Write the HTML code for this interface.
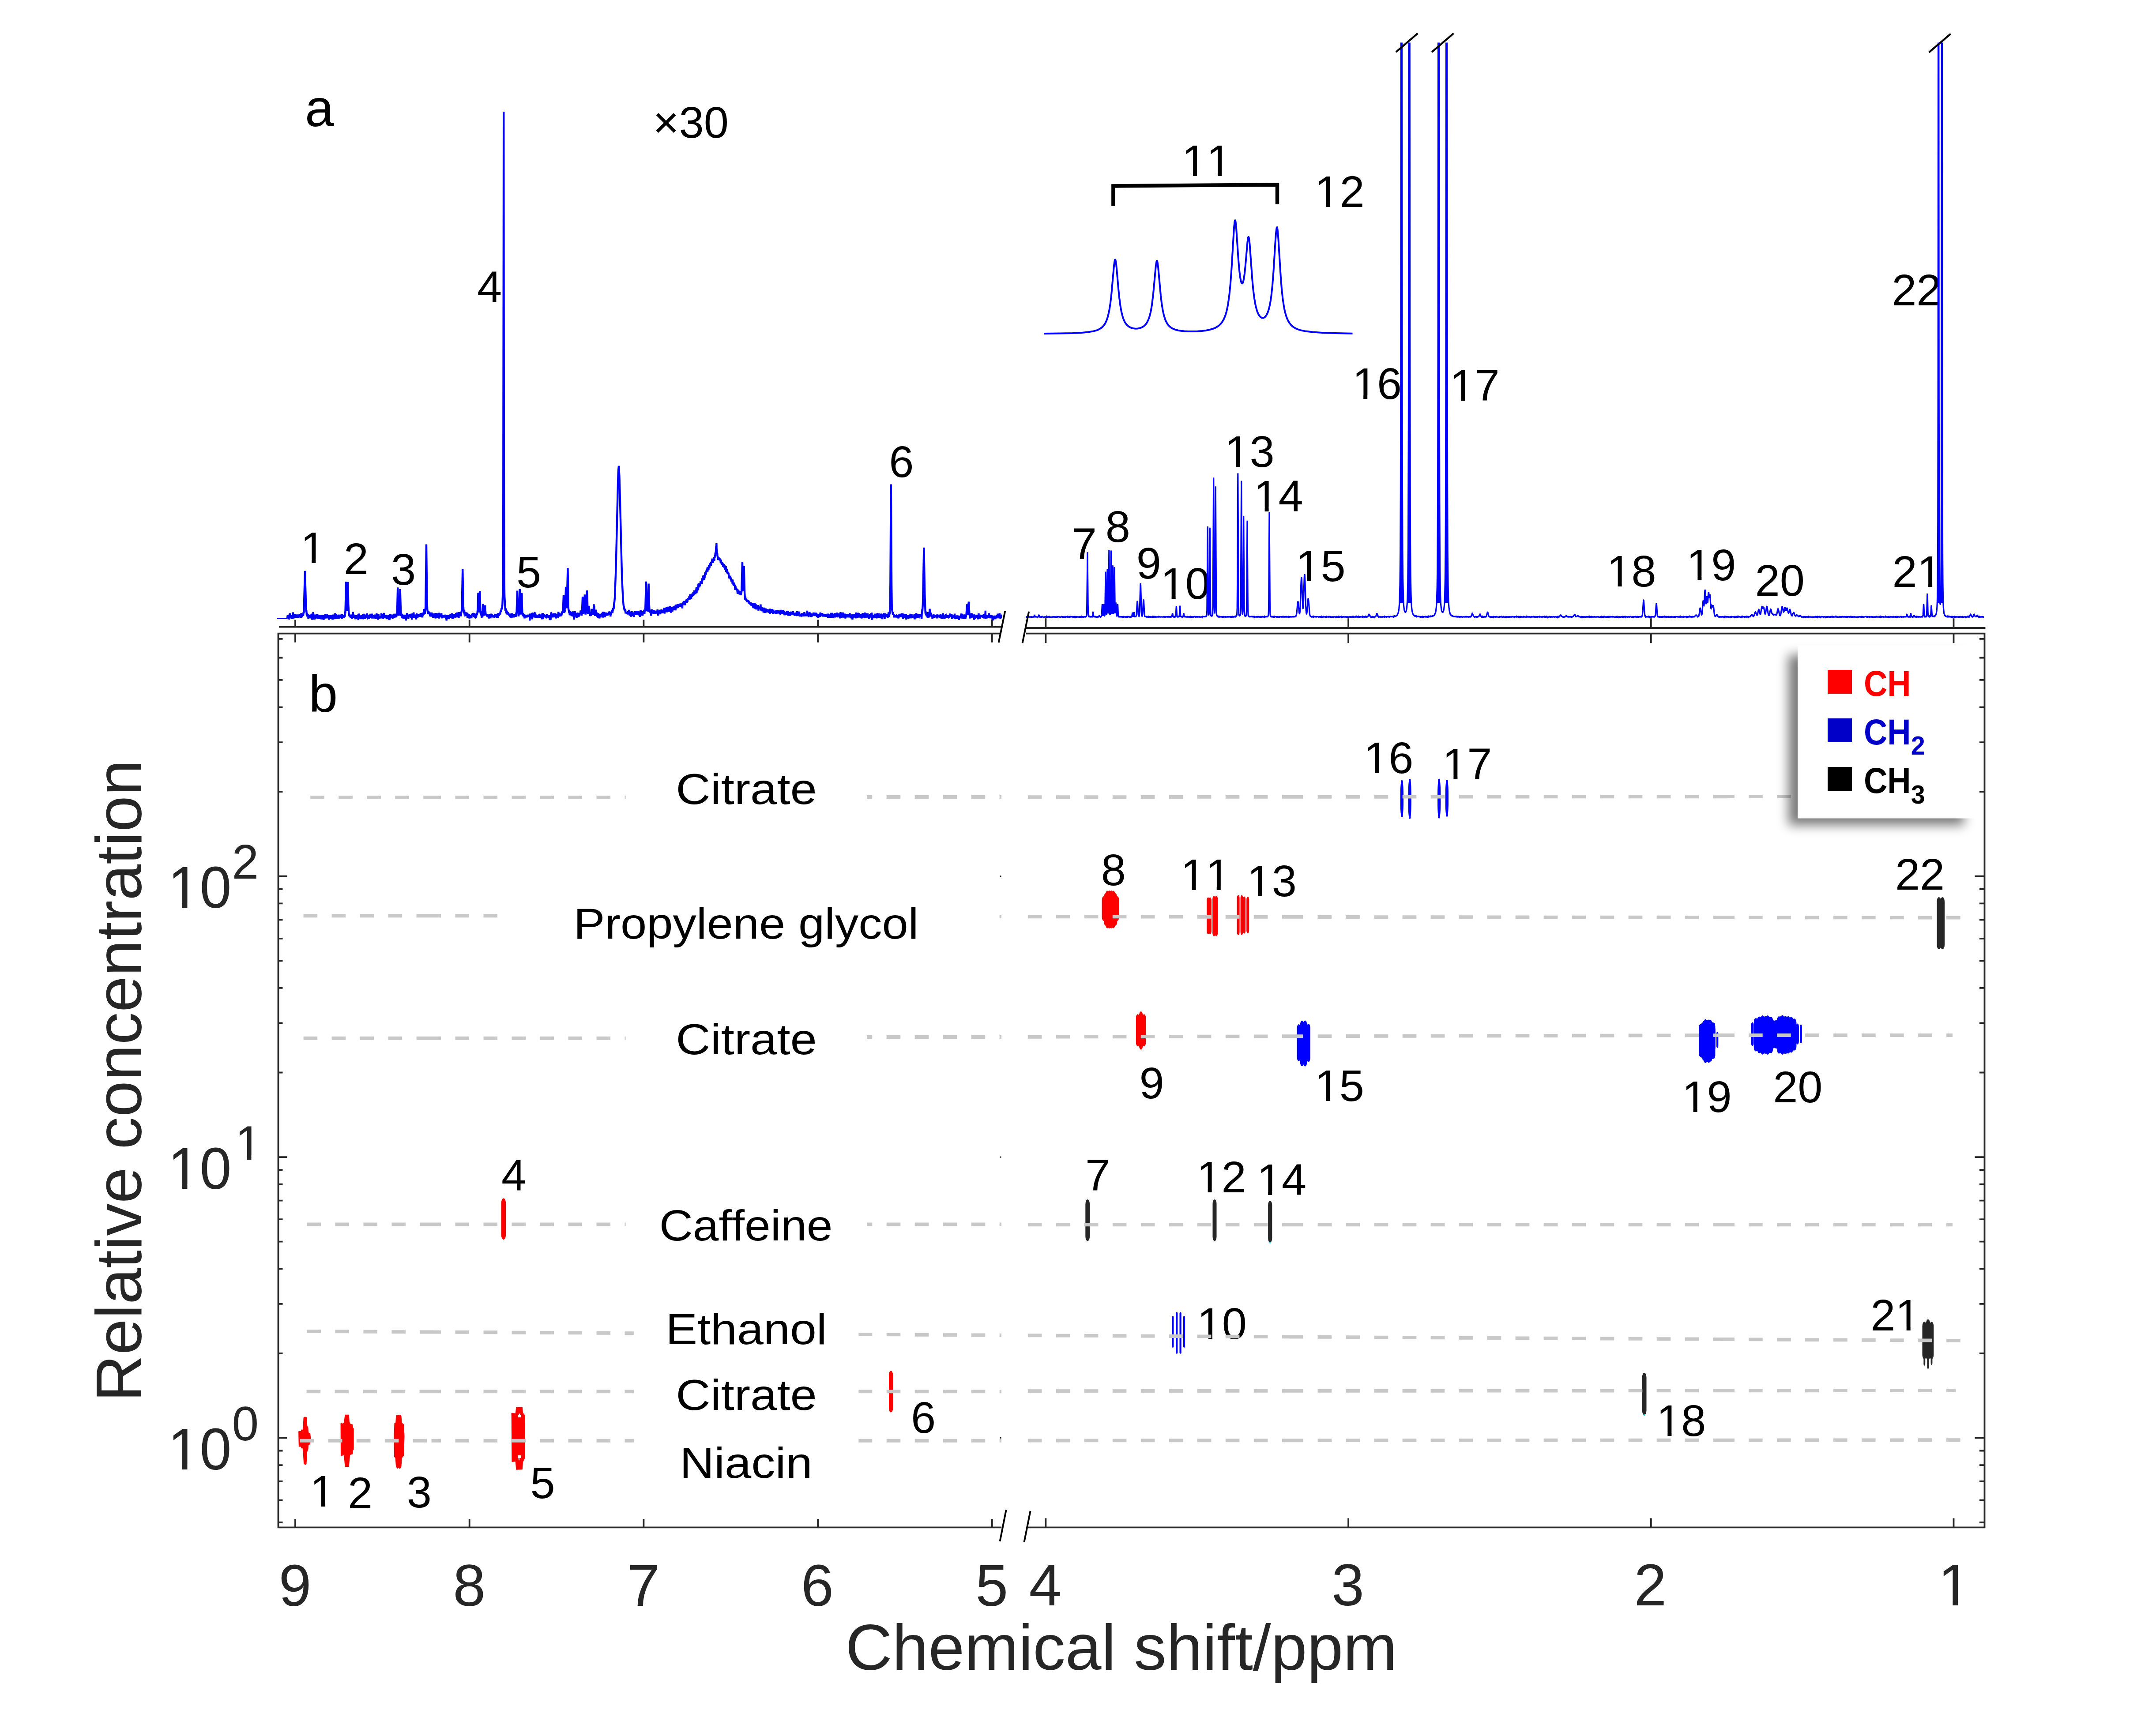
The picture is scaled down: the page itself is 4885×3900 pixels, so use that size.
<!DOCTYPE html>
<html lang="en"><head><meta charset="utf-8"><title>NMR figure</title>
<style>html,body{margin:0;padding:0;background:#fff}svg{display:block}</style></head>
<body>
<svg width="4885" height="3900" viewBox="0 0 4885 3900" font-family="'Liberation Sans', Arial, sans-serif" style="font-kerning:none">
<rect width="4885" height="3900" fill="#fff"/>
<g fill="#000">
<text x="1081" y="685.4" font-size="101" fill="#000">4</text>
<text x="2014.2" y="1081.2" font-size="101" fill="#000">6</text>
<text x="681" y="1275.5" font-size="101" fill="#000">1</text>
<path d="M687.02 1267.22H706.29v9.60H687.02zM715.32 1267.22H733.48v9.60H715.32z" fill="#fff"/>
<text x="778.7" y="1300.5" font-size="101" fill="#000">2</text>
<text x="886" y="1324.8" font-size="101" fill="#000">3</text>
<text x="1170" y="1330.6" font-size="101" fill="#000">5</text>
<text x="2428.7" y="1267" font-size="101" fill="#000">7</text>
<text x="2504.8" y="1227.5" font-size="101" fill="#000">8</text>
<text x="2574.8" y="1311" font-size="101" fill="#000">9</text>
<text x="2629.3" y="1357" font-size="101" fill="#000">10</text>
<path d="M2635.32 1348.72H2654.59v9.60H2635.32zM2663.62 1348.72H2681.78v9.60H2663.62z" fill="#fff"/>
<text x="2677.7" y="399" font-size="101" fill="#000">11</text>
<path d="M2683.72 390.72H2702.99v9.60H2683.72zM2712.02 390.72H2730.18v9.60H2712.02z" fill="#fff"/>
<path d="M2739.88 390.72H2759.15v9.60H2739.88zM2768.18 390.72H2786.34v9.60H2768.18z" fill="#fff"/>
<text x="2979.3" y="468.8" font-size="101" fill="#000">12</text>
<path d="M2985.32 460.52H3004.59v9.60H2985.32zM3013.62 460.52H3031.78v9.60H3013.62z" fill="#fff"/>
<text x="2775.3" y="1058.4" font-size="101" fill="#000">13</text>
<path d="M2781.32 1050.12H2800.59v9.60H2781.32zM2809.62 1050.12H2827.78v9.60H2809.62z" fill="#fff"/>
<text x="2840.3" y="1158.6" font-size="101" fill="#000">14</text>
<path d="M2846.32 1150.32H2865.59v9.60H2846.32zM2874.62 1150.32H2892.78v9.60H2874.62z" fill="#fff"/>
<text x="2936.3" y="1317" font-size="101" fill="#000">15</text>
<path d="M2942.32 1308.72H2961.59v9.60H2942.32zM2970.62 1308.72H2988.78v9.60H2970.62z" fill="#fff"/>
<text x="3063.9" y="904.2" font-size="101" fill="#000">16</text>
<path d="M3069.92 895.92H3089.19v9.60H3069.92zM3098.22 895.92H3116.38v9.60H3098.22z" fill="#fff"/>
<text x="3285.3" y="907.7" font-size="101" fill="#000">17</text>
<path d="M3291.32 899.42H3310.59v9.60H3291.32zM3319.62 899.42H3337.78v9.60H3319.62z" fill="#fff"/>
<text x="3640.3" y="1329" font-size="101" fill="#000">18</text>
<path d="M3646.32 1320.72H3665.59v9.60H3646.32zM3674.62 1320.72H3692.78v9.60H3674.62z" fill="#fff"/>
<text x="3821.1" y="1314.5" font-size="101" fill="#000">19</text>
<path d="M3827.12 1306.22H3846.39v9.60H3827.12zM3855.42 1306.22H3873.58v9.60H3855.42z" fill="#fff"/>
<text x="3976.6" y="1349.8" font-size="101" fill="#000">20</text>
<text x="4287.6" y="1329.8" font-size="101" fill="#000">21</text>
<path d="M4349.82 1321.52H4369.09v9.60H4349.82zM4378.12 1321.52H4396.28v9.60H4378.12z" fill="#fff"/>
<text x="4286.2" y="691.5" font-size="101" fill="#000">22</text>
<text x="1479.5" y="311.8" font-size="101" fill="#000">×30</text>
<text x="691" y="286" font-size="118" fill="#000">a</text>
</g>
<path d="M2522.4 466.8V421.5L2894 418.5V463" fill="none" stroke="#000" stroke-width="8.5" stroke-linejoin="miter"/>
<path d="M627 1401.6H651" stroke="#0000ff" stroke-width="2.6" fill="none"/>
<path d="M651 1401.2L651.7 1394.5L652.4 1401.5L653.5 1394.2L653.9 1401.2L654.2 1401.4L654.6 1395.4L655 1396.1L655.3 1392.9L656.4 1398.3L656.8 1389.8L657.1 1398.4L657.8 1400.9L658.2 1397.2L658.6 1397.1L658.9 1398.5L660.4 1394.2L661.1 1402.8L661.4 1395.4L661.8 1401.7L662.2 1398L662.5 1401.9L662.9 1397.5L663.2 1399.8L663.6 1396.8L664 1387.6L664.3 1397.6L664.7 1394.9L665 1401.4L665.8 1395.5L666.1 1397.7L666.5 1396.3L666.8 1397.1L667.2 1400.4L667.6 1395.7L667.9 1399.9L668.3 1391.8L668.6 1398.9L669 1395.3L669.4 1397.4L669.7 1394.5L670.1 1399.2L670.4 1394.4L670.8 1397.7L671.2 1393.6L672.2 1399.7L672.6 1395L673 1395.9L673.3 1392.4L673.7 1398.4L674 1395.6L674.4 1395.8L675.5 1396.7L676.2 1400.3L677.3 1392.6L677.6 1394.2L678 1394L678.7 1395L679.1 1396.5L679.8 1391.7L680.5 1399L680.9 1391L681.2 1396.1L681.6 1393.9L682 1394.1L682.3 1400L682.7 1389.3L683.4 1395.8L683.8 1394L684.5 1398.6L685.6 1392L686.3 1394.5L686.6 1390.1L687 1395.7L687.7 1387.2L688.1 1388.5L688.4 1388.2L691 1293.9L693.5 1382.7L693.8 1386.1L694.2 1382.6L694.9 1392.9L695.3 1389.3L695.6 1394.8L696 1389.3L696.4 1397.3L697.4 1391.6L698.2 1395.3L698.5 1401.8L698.9 1398.6L699.6 1398.2L700 1394.9L700.3 1397.7L700.7 1394.4L701.4 1397.9L702.5 1394.4L703.6 1401.2L703.9 1392.3L705.4 1400.9L706.4 1390.7L707.5 1404.6L707.9 1393.1L708.6 1402.1L709 1396.8L709.3 1402.1L709.7 1386.9L711.1 1403.8L711.5 1397.7L711.8 1402L712.2 1395.6L712.6 1403.8L713.6 1392.5L714 1400.9L714.4 1402L714.7 1394.8L715.1 1394.8L715.4 1400.4L716.2 1399.5L716.5 1401L717.2 1393.7L717.6 1395.3L718 1391.3L718.3 1397.7L718.7 1397.8L719 1400.4L719.4 1397.8L720.1 1402.8L720.8 1393.1L721.2 1394.9L721.6 1393.4L722.3 1399.6L722.6 1397.2L723.7 1402.5L724.4 1397.5L724.8 1397L725.2 1398.9L725.5 1393.2L725.9 1396.9L726.6 1393.8L727.3 1403.4L727.7 1395.2L728 1399.5L728.4 1393.5L728.8 1396.4L729.1 1394.4L729.5 1395.2L729.8 1403.7L730.2 1395.3L730.6 1399.5L730.9 1399.7L731.6 1395.2L732.4 1394.4L732.7 1402.4L733.1 1399.2L733.4 1404.6L734.2 1395.7L734.5 1399.7L735.6 1394.4L736 1399.9L736.7 1399.7L737 1392.2L737.8 1397.8L738.1 1396.8L738.8 1396.8L739.6 1398.5L739.9 1401.2L740.6 1392.5L741.7 1398.1L742.4 1396.4L742.8 1399.4L743.2 1396.9L743.5 1396.7L743.9 1399.7L745 1400.6L745.3 1394.8L745.7 1404.5L746 1398.2L746.8 1399.3L747.5 1394.1L748.6 1399.3L749.3 1394.7L750 1400.9L750.4 1401.2L750.7 1400.8L751.1 1401.6L751.4 1394.1L752.2 1398.1L752.5 1393.1L752.9 1399.4L753.2 1395.2L753.6 1395L754 1402.1L754.3 1402.1L755.4 1393.5L755.8 1401.1L756.1 1394.3L756.5 1398.6L757.2 1399.1L757.6 1398.4L757.9 1402.9L758.3 1400.4L758.6 1401.1L759.7 1389.2L760.4 1402.6L760.8 1398.6L761.2 1400.2L761.5 1391.4L762.2 1399.6L762.6 1394.6L763 1395.8L763.3 1402.3L763.7 1399L764.8 1397L765.1 1398.4L765.5 1396.8L766.2 1400L766.6 1392.8L766.9 1396.3L767.3 1396L767.6 1402.1L768.4 1394.9L768.7 1401.2L769.1 1394L769.4 1398.5L769.8 1396.1L770.2 1397.7L770.5 1396.6L770.9 1393.7L771.2 1398.5L771.6 1392.6L772 1399.6L772.3 1400L772.7 1395.1L773 1400.4L774.1 1393.5L774.5 1402.4L775.2 1391.4L775.9 1397.7L776.3 1398.8L776.6 1397.8L777 1400.4L777.4 1397.6L778.1 1397.1L778.4 1393.1L779.2 1400.8L779.5 1393.1L779.9 1399.3L780.6 1395.9L781.3 1397.6L782 1385.6L782.4 1390.3L784.2 1318.2L785.5 1372.4L786.2 1382.7L786.4 1383.4L786.5 1382.6L786.9 1374.9L788.2 1318.9L789.2 1368.5L790.3 1388.8L791.4 1395.1L791.8 1393.5L792.1 1399L792.5 1396.6L792.8 1398.4L793.2 1394.2L793.6 1398.2L794.6 1392.7L795 1399.2L795.4 1399.7L795.7 1394.5L796.1 1400.3L796.4 1395.6L796.8 1398.7L797.2 1397.4L797.5 1402.5L797.9 1395L798.6 1399.8L799 1390.9L799.3 1395L799.7 1386.7L800.4 1398.3L801.1 1392.4L801.5 1397.3L802.2 1395.7L802.6 1400L802.9 1396.9L803.6 1401L804 1394.7L804.7 1397.1L805.4 1403.3L805.8 1395.9L806.5 1402.4L806.9 1397.5L807.2 1401.9L807.6 1397.4L808.3 1396.3L809 1396.8L809.4 1400.8L809.8 1398.5L810.1 1398.9L811.2 1395.5L811.6 1392.5L811.9 1405.1L812.3 1396.2L812.6 1398L813 1390.5L813.7 1402.3L814.1 1396.2L814.4 1398.9L814.8 1394.4L815.2 1400.5L815.5 1397.7L816.2 1397.7L817 1402.9L817.7 1394.4L818.4 1400.4L819.1 1395.7L819.5 1397.9L819.8 1397.4L820.2 1393.2L820.6 1400.7L820.9 1399.1L821.3 1403.1L821.6 1399.5L822.4 1400.3L822.7 1399.5L823.1 1392L823.4 1398L823.8 1397.7L824.2 1390.8L824.9 1402.6L825.2 1396.2L825.6 1400.2L826 1392.5L826.3 1401.1L826.7 1399.1L827 1402.2L827.4 1397.1L827.8 1400.4L828.1 1397.6L828.8 1399.2L829.2 1394.6L829.6 1394.6L830.6 1400.6L831.4 1390.2L831.7 1398.8L832.8 1400.7L833.2 1400.3L833.9 1393.1L835 1402.2L835.3 1396.7L836 1401.1L836.4 1400.6L837.1 1394.3L838.2 1398.4L838.6 1396.4L838.9 1397.4L839.3 1390.9L839.6 1400.8L840.4 1393.6L840.7 1398.2L841.1 1393.1L841.4 1397.5L841.8 1397L842.5 1401.5L843.2 1390.7L843.6 1395.5L844 1395.6L844.3 1394.5L844.7 1395.7L845 1394.3L845.4 1398.2L845.8 1398.1L846.1 1394.4L846.8 1401.4L847.9 1395.5L848.6 1400.6L849.4 1392.7L849.7 1397.5L850.1 1396.9L850.4 1397.4L850.8 1396.5L851.5 1393.2L851.9 1402.3L852.2 1393.3L853 1398.3L853.3 1390.2L853.7 1397.9L854 1391.5L854.8 1400.5L855.5 1395.2L856.2 1404.3L856.6 1398.4L856.9 1397.9L857.3 1400.7L857.6 1391.9L858 1398.1L858.4 1398.5L858.7 1398.3L859.1 1399.7L859.4 1399.7L860.2 1396.4L860.5 1398.9L860.9 1397.6L861.2 1401.5L861.6 1395.8L862 1399.6L862.3 1396.7L862.7 1400.1L863.4 1396.7L863.8 1401L864.1 1389.9L864.5 1397.4L864.8 1397.6L865.2 1399.5L865.6 1392.5L865.9 1393.2L866.6 1401.4L867.4 1395.5L868.1 1400.9L868.4 1400.9L869.2 1397.3L869.5 1399.3L870.2 1388.9L871 1400.4L871.3 1396.3L872 1397.7L872.4 1394.2L872.8 1398.3L873.5 1398.4L874.2 1393.4L874.9 1401.3L875.3 1398.6L875.6 1399.7L876 1394.8L876.4 1396.6L876.7 1394.6L877.4 1403L877.8 1395.9L878.2 1396.6L878.5 1395.8L878.9 1401.2L879.2 1397L879.6 1399.3L880 1399.3L880.3 1396.2L880.7 1396.2L881.8 1404.7L882.5 1393.9L883.2 1404L884.3 1392.2L885.7 1400.4L886.4 1398.2L886.8 1399.5L887.2 1397L887.5 1398.4L888.2 1392.9L889.7 1401.7L890.4 1395.5L890.8 1400.1L891.1 1393.3L891.5 1398.1L891.8 1395.9L892.6 1400.8L892.9 1390.8L893.3 1400.5L893.6 1394.2L894 1398.6L894.4 1396.1L894.7 1399.3L895.8 1390.9L896.2 1399.2L896.9 1393.6L897.2 1398.2L897.6 1394L898 1398.2L899 1390.6L899.6 1391.7L899.8 1391.3L901.2 1331.3L903 1395.3L903.7 1389.5L904.1 1394.7L904.4 1393L905.2 1393.6L906.6 1335.1L908 1382.2L908.9 1395.9L909.8 1390.7L910.2 1401L910.6 1396.8L910.9 1398.4L911.6 1392.1L912.4 1400.3L912.7 1396.5L913.4 1401.4L913.8 1394.1L914.2 1398.4L914.5 1394.8L914.9 1400.8L915.2 1393.6L915.6 1401.2L916 1393.7L916.3 1402.4L916.7 1392.8L917.4 1401.6L918.1 1395.9L918.5 1399.9L919.2 1396.2L919.6 1397.5L919.9 1406.2L920.6 1395.7L921 1396.1L921.4 1394L921.7 1399L922.1 1389.3L922.4 1394.6L922.8 1396L923.2 1393.7L923.5 1394.1L924.2 1398.8L924.6 1393.9L925.3 1402.6L926 1395.5L926.4 1396.6L927.1 1395L927.5 1396.5L927.8 1392.2L928.2 1398.7L930 1392.4L930.4 1398.3L930.7 1393.4L931.4 1400L932.2 1390.6L933.2 1404L933.6 1399L934 1398.9L934.3 1396.6L934.7 1389.9L935.8 1399.6L936.1 1400.3L936.5 1397.3L936.8 1398.1L937.2 1387.7L937.6 1397.9L937.9 1398.5L938.3 1393.2L939 1400.3L939.4 1392.7L940.1 1400.5L940.4 1395.5L940.8 1395L941.2 1397.5L941.9 1393.9L943 1403.5L943.7 1392.5L944 1393.1L944.8 1390.5L945.1 1396L945.5 1392.8L945.8 1400.5L946.2 1393.8L947.6 1398.9L948.4 1391.6L948.7 1396.4L949.1 1393.6L949.4 1397.1L949.8 1394.3L950.2 1397.9L950.5 1393.7L950.9 1395.4L951.2 1393.6L952 1397.9L953 1389.2L953.4 1394.7L953.8 1391.2L954.1 1391.2L954.5 1392.1L954.8 1397.8L955.2 1392L955.6 1395.6L955.9 1389L956.6 1390.3L957 1399.5L957.4 1389.9L957.7 1389.4L958.1 1395.1L958.4 1388.1L958.8 1390.5L959.9 1393L960.6 1380L961 1388.3L961.3 1387.9L961.7 1389.9L962.4 1388.4L962.8 1388.6L963.1 1382.1L963.5 1383.8L964.2 1375.4L966 1233.5L967.4 1358.9L968.2 1380.5L969.6 1390.8L970.3 1385L971 1392.1L971.4 1387.2L972.1 1388.8L972.5 1388.6L972.8 1391.2L973.6 1387.9L974.3 1395.5L975 1391L975.4 1397.4L976.1 1390.5L976.4 1392.9L976.8 1392.3L977.2 1396.6L977.9 1387.9L978.2 1393.9L979 1397.1L979.3 1391.1L980 1396.4L980.4 1390.5L981.1 1392.6L981.5 1399.8L982.2 1392.9L982.6 1398.6L983.3 1390.8L984 1397.4L984.4 1397.5L984.7 1392.6L985.4 1391.9L985.8 1392L986.9 1401.4L987.6 1389.1L988 1397.4L988.3 1397.5L988.7 1394.1L989.4 1400.3L989.8 1398.3L990.1 1399.5L990.5 1390.2L990.8 1398.4L991.6 1390.6L992.3 1392.1L992.6 1391.5L993 1400.1L993.4 1397.5L993.7 1398.7L994.1 1397.4L994.4 1388.6L994.8 1401.6L995.2 1394.9L995.5 1400.3L995.9 1392.6L996.2 1392.7L996.6 1398.1L997 1390.4L997.3 1396.4L997.7 1392.7L998.4 1398.3L999.1 1397L999.5 1394.8L999.8 1396.3L1000.2 1389.6L1000.6 1397.3L1001.6 1399L1002 1401L1002.7 1394L1003.4 1397.2L1004.2 1393.5L1004.5 1394.9L1004.9 1394.4L1005.2 1398.4L1005.6 1397.5L1006 1399.1L1006.3 1397L1006.7 1399.2L1007.4 1397.3L1008.5 1398.2L1008.8 1392.8L1009.6 1399.8L1009.9 1396.2L1010.3 1400L1010.6 1400L1011 1396.5L1011.7 1406.4L1012.4 1393.7L1012.8 1401.8L1013.5 1395L1013.9 1402.7L1014.2 1399.4L1014.6 1400.4L1015 1397.4L1015.3 1402.7L1015.7 1394.1L1016 1397.2L1016.4 1395.8L1016.8 1397.7L1017.1 1403.1L1017.5 1397.2L1017.8 1400.8L1018.2 1396.7L1018.6 1399.3L1019.6 1394.4L1020 1394.4L1020.4 1399.7L1021.1 1392.3L1021.8 1398.9L1022.2 1397.1L1022.5 1397.7L1022.9 1393.9L1023.2 1396.6L1023.6 1395.5L1024 1390L1024.3 1400.8L1024.7 1399.7L1025 1401.8L1025.4 1401.4L1025.8 1394L1026.1 1395.7L1026.5 1391.7L1026.8 1402.5L1027.6 1392.2L1027.9 1393.4L1028.6 1393.8L1029 1396.3L1029.7 1396.3L1030.1 1393.8L1030.4 1396.8L1031.2 1391.9L1031.5 1399.6L1032.2 1394.4L1032.6 1396.8L1033 1396.5L1033.3 1389.6L1034 1397L1034.8 1388.1L1035.1 1398.9L1035.8 1395L1036.2 1397.1L1036.6 1388.6L1037.3 1396.1L1037.6 1393.3L1038 1397L1038.4 1396.3L1039.1 1387L1039.4 1400.7L1039.8 1392.5L1040.2 1389.5L1040.5 1391.1L1040.9 1387.4L1041.2 1391.5L1042.3 1394.7L1042.7 1386.9L1043 1395.1L1043.4 1391.6L1044.1 1392.7L1044.5 1396.6L1044.8 1390.4L1046.3 1382.2L1046.6 1375.4L1048.2 1289.9L1049.7 1372.6L1051 1389.8L1051.3 1389.5L1052 1382.8L1052.8 1394.3L1053.1 1389.9L1053.5 1392.5L1053.8 1392.1L1054.2 1394.2L1054.6 1393.9L1055.3 1387.5L1056.7 1396L1057.4 1390.4L1057.8 1391.8L1058.2 1388.5L1059.2 1399.7L1059.6 1393.7L1060 1400.2L1060.3 1390.6L1060.7 1397.1L1061 1395.3L1061.4 1399.5L1061.8 1397L1062.1 1398.4L1062.5 1392.3L1063.6 1401.6L1063.9 1396.1L1064.6 1399.3L1065 1394.2L1065.4 1396.6L1065.7 1395.7L1066.1 1397.8L1066.8 1397.4L1067.2 1400.9L1067.5 1394.2L1067.9 1394.8L1068.2 1401.1L1069 1392.2L1069.3 1394.5L1069.7 1390.6L1070 1394.2L1070.4 1391.9L1070.8 1394.2L1071.1 1391.7L1071.5 1393.8L1072.2 1389.4L1072.6 1390.2L1072.9 1389.7L1073.6 1398.1L1074 1394.3L1074.4 1396.3L1074.7 1390.6L1075.1 1390.2L1075.8 1399.5L1076.5 1395.5L1076.9 1398.2L1077.2 1394.4L1078 1393.4L1078.7 1398.4L1079 1398.2L1079.8 1391.4L1080.1 1390.4L1080.8 1393.3L1081.7 1387.6L1082.6 1376.3L1083.5 1343.2L1085.2 1388L1087.1 1339.1L1088.8 1390.2L1088.9 1390.5L1089.1 1390.1L1089.5 1394.3L1089.8 1393.5L1090.2 1384.7L1091.3 1399.8L1092 1392.5L1092.4 1396.7L1092.7 1394.6L1093.1 1399L1094.5 1368.5L1096.7 1395.3L1097 1388.4L1097.4 1387.5L1097.8 1388.9L1098.1 1377.3L1098.7 1375.6L1098.8 1376.4L1099.2 1371.7L1099.6 1385.4L1099.9 1383.9L1100.3 1390.9L1100.6 1391.1L1101 1393.3L1101.4 1391.9L1101.7 1394.5L1102.1 1394L1102.4 1395.1L1102.8 1392.7L1103.2 1397.2L1103.9 1391.6L1104.2 1396.4L1104.6 1394.9L1105 1397.8L1105.7 1395.5L1106.4 1398.9L1106.8 1396.4L1107.8 1394.2L1108.2 1401.6L1108.6 1392.1L1109.3 1398.6L1110.4 1393.7L1110.7 1397.4L1111.1 1395.8L1111.4 1401.1L1111.8 1395.8L1112.5 1397.5L1113.2 1390.8L1114 1398.5L1114.3 1391.6L1114.7 1397.2L1115 1396.3L1115.4 1397.9L1116.1 1394.5L1116.8 1396.7L1117.2 1396.5L1117.6 1397.2L1117.9 1393.1L1118.3 1397.5L1118.6 1396.4L1119 1396.6L1119.4 1398.2L1119.7 1396.6L1120.1 1400.2L1120.4 1394.6L1120.8 1394.2L1121.2 1396.7L1121.5 1391.1L1121.9 1398.1L1122.2 1394L1122.6 1394.2L1123 1397.1L1123.7 1392.8L1124 1395.2L1124.4 1394.5L1124.8 1391.1L1125.5 1400.1L1126.2 1392.4L1127.3 1400.5L1128 1389.9L1128.7 1400.5L1129.1 1392.4L1129.4 1395.3L1130.2 1394.2L1130.5 1395.6L1131.2 1389.6L1132 1393.2L1132.3 1388.1L1132.7 1391L1133 1388.5L1133.4 1392.4L1133.8 1387.1L1134.5 1383.8L1134.8 1386.8L1135.2 1384.6L1135.6 1386.7L1135.9 1381.2L1136.6 1377.9L1137.4 1381L1138.4 1369.6L1139.5 1337L1140.1 1284.1L1141.2 253L1141.9 1063.3L1142.6 1315.7L1143.1 1351L1144.9 1382.2L1145.3 1383.7L1145.6 1383.1L1146.4 1378.6L1146.7 1386.4L1147.8 1390L1148.2 1386.4L1148.5 1389.7L1148.9 1383.8L1149.6 1392.5L1150 1390.2L1150.3 1391.8L1150.7 1389.4L1151 1389.4L1151.4 1393.4L1151.8 1390.1L1152.5 1393.5L1153.2 1391.6L1153.9 1396L1154.3 1390.4L1155 1396.2L1155.4 1393.2L1155.7 1399L1156.1 1394.5L1156.4 1398.8L1156.8 1396.1L1157.2 1400.2L1157.9 1392.4L1158.6 1398.8L1159 1390.1L1159.3 1397.1L1159.7 1390.9L1160.4 1399.7L1160.8 1389.9L1161.1 1396.7L1161.8 1391.9L1162.2 1399.3L1162.6 1395.3L1162.9 1397.2L1163.3 1393.7L1164 1399.2L1164.7 1393.2L1165.1 1396.3L1165.4 1393.8L1165.8 1396.9L1166.5 1394.2L1166.9 1394.8L1167.2 1391.4L1168.3 1392.6L1169 1397.6L1169.8 1387.6L1170.1 1390.2L1170.5 1387.6L1172.1 1338.5L1173.5 1385.4L1173.7 1388.7L1174.1 1385.6L1174.4 1388.4L1174.8 1396.7L1176.2 1387.2L1177.7 1334.8L1179.5 1392.7L1180.6 1378.8L1181.8 1343.9L1182.4 1347.2L1182.7 1373.2L1183.8 1390.9L1184.5 1395.1L1184.9 1389.7L1185.6 1395.1L1186 1395.5L1186.3 1394.7L1186.7 1398.8L1187 1396.5L1187.4 1397.4L1187.8 1393.9L1188.1 1394L1188.5 1401.3L1189.2 1393L1189.6 1399.7L1189.9 1399.4L1190.3 1393L1191.4 1399.6L1191.7 1395.5L1192.1 1397.7L1193.2 1394L1193.9 1397.7L1194.2 1396L1194.6 1396.4L1195 1395.6L1195.3 1397.7L1195.7 1396.9L1196.4 1397.9L1197.1 1392.8L1197.5 1397.8L1197.8 1394.5L1198.6 1395.9L1198.9 1394.2L1199.3 1397.8L1199.6 1394.5L1200 1395.3L1200.4 1406.4L1200.7 1395.2L1201.4 1390.5L1201.8 1399.3L1202.5 1395.2L1202.9 1399L1203.2 1392.7L1204.3 1399.7L1205 1389.2L1205.4 1389.8L1205.8 1403.4L1206.5 1394.2L1207.2 1398L1207.6 1394.3L1207.9 1395.8L1208.6 1395.1L1209 1399L1209.4 1391.7L1209.7 1396.5L1210.1 1390.9L1210.8 1390L1211.3 1386.9L1211.9 1393.4L1212.2 1391.4L1212.6 1391.5L1213 1399.1L1213.3 1399.6L1213.7 1392.5L1214.4 1400.5L1214.8 1394.6L1215.1 1396.2L1215.5 1393.2L1215.8 1397L1216.2 1396.7L1216.6 1398.3L1216.9 1395.6L1217.6 1398.1L1218 1397.2L1218.4 1398.4L1218.7 1394.3L1219.4 1400.7L1220.2 1392.9L1220.5 1397.6L1220.9 1394.2L1221.2 1394L1221.6 1397.6L1222 1393.9L1223 1398.2L1223.4 1396.3L1223.8 1399.9L1224.8 1394.8L1225.6 1398L1226.3 1392.6L1227 1398.3L1227.4 1394.6L1227.7 1403.3L1228.8 1390.2L1229.2 1398.3L1229.9 1389.2L1230.6 1403.1L1231 1392.8L1231.3 1395.5L1231.7 1393.1L1232.4 1397.9L1233.1 1391.6L1233.8 1396.9L1234.6 1393.5L1235.6 1398L1236 1398.2L1236.4 1397.3L1236.7 1397.6L1237.1 1400.7L1237.4 1400.2L1237.8 1393.4L1238.5 1399.9L1239.2 1391.7L1240.3 1399L1240.7 1397.5L1241 1398.6L1241.4 1397.5L1241.8 1394.5L1242.1 1399.1L1243.2 1396L1243.6 1398.2L1244.3 1399.2L1245 1394.3L1245.7 1405.1L1246.1 1394L1246.8 1398.4L1247.2 1396.5L1247.5 1404.8L1248.2 1392.3L1248.6 1389.4L1249 1389.2L1249.3 1397.9L1250 1393.4L1250.4 1399.4L1250.8 1390.5L1251.1 1397.8L1251.5 1394.6L1251.8 1399.1L1252.2 1394.5L1252.6 1395.7L1252.9 1392.4L1253.3 1399L1254 1390.1L1254.4 1399.1L1254.7 1394.5L1255.1 1394.2L1255.4 1397L1255.8 1396.3L1256.2 1391.2L1257.2 1394.6L1257.6 1398.8L1258.3 1389.9L1259.4 1401.4L1260.1 1394.7L1260.5 1396.8L1261.6 1392.3L1261.9 1394.3L1262.3 1391.2L1262.6 1399.2L1263 1393.4L1263.4 1393.5L1263.7 1399.2L1264.1 1390.9L1264.4 1399.4L1264.8 1398.9L1265.2 1386.5L1265.9 1393.2L1266.2 1390.2L1266.6 1390.7L1267 1397.4L1267.7 1389.6L1268 1394.2L1268.4 1393.4L1268.8 1394.8L1269.1 1391.1L1269.5 1394.8L1269.8 1394.8L1270.2 1396.5L1271.3 1390.8L1272 1395L1273.1 1387.1L1273.4 1392.1L1274.5 1384.6L1274.9 1388.4L1275.6 1385.8L1277 1348.6L1278.8 1389.2L1279.2 1383.8L1279.6 1386.3L1279.9 1379.1L1280.3 1380.8L1281 1371.1L1282.1 1329.9L1283.5 1371.2L1284.2 1378.4L1286.4 1287.2L1287.8 1375.3L1288.2 1381.6L1288.9 1383.5L1289.6 1389.5L1290.4 1385.8L1290.7 1394.1L1291.4 1391.6L1291.8 1384.7L1292.9 1389.3L1293.2 1394.4L1293.6 1387.9L1294.3 1394.1L1294.7 1386.1L1295 1396.5L1295.4 1388.1L1296.1 1395.4L1296.5 1392.2L1296.8 1395.4L1297.2 1392.4L1297.9 1396.8L1298.3 1385.3L1298.6 1395L1299 1390.5L1299.4 1393.8L1299.7 1391.6L1300.8 1403.9L1301.2 1390.9L1301.9 1397.6L1303 1385.3L1303.3 1393.5L1303.7 1391.5L1304 1392.4L1304.4 1392L1305.1 1395.6L1305.8 1390.7L1306.2 1398L1306.6 1397.9L1307.3 1389L1308 1399.6L1308.4 1392L1308.7 1392.2L1309.1 1388.6L1309.4 1393.9L1309.8 1388.5L1310.2 1396.6L1310.5 1391.7L1311.2 1398L1312 1390.2L1312.7 1395.3L1313 1390.6L1313.4 1391L1313.8 1390.6L1314.1 1391.5L1314.5 1389.7L1314.8 1390.6L1315.6 1383.4L1315.9 1386.9L1317 1390.5L1317.4 1388.7L1317.7 1395.1L1318.8 1386L1320.1 1352.2L1321.3 1373.7L1321.7 1391.2L1322 1389.1L1322.4 1389.8L1323.8 1380.5L1324.9 1347.3L1326.7 1392.7L1327.1 1386.8L1327.4 1389.3L1328.2 1386.1L1329.8 1338.2L1330.7 1351.5L1331.4 1387.1L1331.6 1387.4L1331.8 1386.7L1332.1 1391.5L1332.5 1388.8L1333.2 1390.6L1333.9 1377.6L1334.3 1377.9L1334.6 1372.9L1335 1379.2L1335.7 1381.1L1336.1 1388.2L1336.4 1388.4L1337.2 1396L1338.2 1392L1338.6 1395.2L1339 1391.4L1339.3 1395.3L1340 1391.6L1340.4 1393.1L1340.8 1383.5L1341.6 1380.1L1342.2 1390.3L1342.9 1392.7L1343.3 1388.3L1343.6 1393.4L1344 1389L1344.4 1391.8L1344.5 1389.7L1345.4 1369.4L1345.8 1374.8L1346.2 1373.2L1347.2 1388.9L1347.6 1388.9L1348.3 1395.7L1348.7 1390.8L1349 1394.6L1349.4 1392.5L1350.1 1381.7L1351.2 1393.3L1351.6 1394.4L1351.9 1387.9L1352.6 1397.7L1353 1388.9L1353.4 1391.9L1353.7 1389.7L1354.4 1400.3L1355.9 1389.2L1356.2 1395.8L1356.6 1394L1357.3 1394L1358.4 1401.5L1358.8 1392.6L1359.1 1394.2L1359.5 1393L1359.8 1396.8L1360.2 1393.6L1360.6 1396.5L1360.9 1396.6L1361.6 1391.6L1362.7 1394.6L1363.1 1389.2L1364.2 1396.6L1364.5 1392.2L1364.9 1392.3L1365.2 1396L1365.6 1386.3L1366 1399.5L1367 1390.1L1367.4 1398.6L1368.1 1388.6L1368.5 1388.7L1368.8 1393.7L1369.2 1392.7L1369.6 1395.5L1369.9 1391.6L1370.6 1398.8L1371.4 1392.4L1371.7 1396.5L1372.1 1389.1L1372.4 1388.6L1373.2 1390.4L1373.5 1388.9L1373.9 1391.4L1374.2 1389.5L1374.6 1390.7L1375 1389.7L1375.3 1395L1375.7 1393.9L1376 1394.8L1376.4 1389.3L1377.5 1394.5L1378.2 1388.7L1378.6 1391.6L1379.3 1393.1L1380 1386L1380.4 1392.8L1381.1 1385.4L1381.8 1393.7L1382.2 1386.8L1382.5 1393.7L1382.9 1388.1L1383.2 1397.2L1384 1386.4L1384.3 1390.8L1384.7 1391L1385 1388.4L1385.4 1388.3L1386.1 1389.7L1386.5 1381.9L1387.6 1389.4L1389 1378L1389.4 1383.2L1390.4 1376.3L1390.8 1376.5L1391.5 1365.2L1391.9 1366.3L1393 1354.3L1395.5 1288.2L1400.2 1089L1400.9 1068.3L1402 1055.7L1403.4 1078.8L1404.8 1128.8L1409.2 1309.3L1411.7 1360.1L1412.8 1371.8L1413.1 1373.7L1413.5 1372.9L1413.8 1377.6L1415.3 1383.6L1415.6 1379.6L1416 1383.4L1416.4 1380.2L1416.7 1385.8L1417.1 1382.5L1417.4 1390.3L1418.2 1386.9L1418.5 1388.9L1418.9 1387.6L1419.2 1390.2L1419.6 1388.1L1420 1389.8L1420.3 1388L1421 1391.3L1421.8 1388.5L1422.1 1392.5L1422.8 1385.1L1423.2 1389.7L1423.6 1387.4L1423.9 1387.3L1424.3 1391.7L1425 1381.8L1425.4 1392.6L1425.7 1383.1L1426.1 1391.7L1426.4 1385.3L1426.8 1395.2L1427.2 1386.3L1427.9 1393.7L1428.2 1392.4L1428.6 1393.1L1429 1392.7L1429.3 1388.9L1430 1397.7L1430.4 1391.1L1430.8 1388.7L1431.1 1389.9L1431.5 1385.1L1431.8 1395.8L1432.2 1389.5L1432.6 1390.2L1432.9 1388.1L1433.3 1394.3L1433.6 1394.3L1434.4 1390.1L1434.7 1395.8L1435.1 1389.3L1435.4 1390.4L1435.8 1388.2L1436.2 1398.3L1436.5 1388.9L1436.9 1393.1L1438 1385.3L1438.7 1390.7L1439 1386.5L1439.4 1393.1L1439.8 1390.9L1440.5 1393.4L1441.2 1384.2L1441.6 1389.6L1441.9 1388.9L1442.3 1390.5L1442.6 1387L1443.4 1393L1444.1 1386L1444.4 1390.6L1444.8 1386.7L1445.2 1390.5L1445.5 1384.2L1445.9 1389.4L1446.2 1388.3L1446.6 1391.1L1447 1387.7L1447.7 1394.6L1448 1389.2L1448.4 1393.8L1448.8 1385.7L1449.5 1390L1449.8 1388L1450.2 1397.9L1450.6 1385.4L1450.9 1392L1451.6 1382.2L1452 1394.8L1452.7 1388.8L1453.1 1388.6L1453.4 1394.9L1454.2 1385.2L1454.5 1391.5L1454.9 1388L1455.2 1393.7L1455.6 1392.3L1456 1395L1456.7 1385.9L1457.4 1390.1L1458.1 1387.6L1458.5 1389.8L1459.6 1381.8L1460.3 1391.9L1460.6 1381.9L1461 1384.3L1461.4 1383L1461.9 1383.8L1462.1 1383.6L1463.9 1317.7L1465.3 1371.5L1465.5 1372.2L1465.7 1371.7L1466.2 1382.3L1466.8 1385.1L1467.1 1383.6L1467.5 1383.8L1467.8 1378.2L1469.6 1322.6L1470.9 1371L1471.8 1386.2L1472.2 1380.9L1472.9 1388.3L1473.6 1384.9L1474 1389.6L1474.7 1385.4L1475 1395.3L1475.8 1386.6L1476.1 1385.7L1476.5 1390.4L1477.2 1381L1477.6 1387L1477.9 1387.7L1478.3 1387.4L1478.6 1390.6L1479 1385.9L1479.4 1387L1480.1 1383.2L1480.4 1387.4L1481.2 1386.4L1481.5 1382.1L1481.9 1391.7L1482.2 1387.3L1482.6 1389.2L1483.3 1384.7L1483.7 1386.9L1484 1384.9L1485.5 1391.1L1485.8 1386.2L1486.2 1388L1486.9 1383.8L1487.3 1389.4L1487.6 1389.9L1488 1384.8L1488.4 1389.2L1489.1 1384.6L1489.4 1387.6L1489.8 1381L1490.2 1388.7L1490.5 1385L1491.2 1394.9L1491.6 1386.6L1492 1386.5L1492.3 1384.3L1493 1388.1L1493.8 1386.7L1494.1 1383.5L1494.5 1386.5L1494.8 1381.9L1495.6 1387.7L1495.9 1382.3L1496.3 1392.2L1496.6 1385.2L1497 1388.2L1497.7 1381.7L1498.4 1385.5L1498.8 1381.1L1499.2 1387.2L1499.5 1387.3L1499.9 1381.8L1500.6 1388.9L1501.3 1382.1L1501.7 1384.9L1502 1385.6L1502.8 1383.6L1503.1 1386.3L1503.5 1381.6L1503.8 1388.8L1504.6 1377.4L1504.9 1387L1505.3 1383.8L1505.6 1390.5L1506 1386.1L1506.4 1387L1506.7 1383.2L1507.1 1384.8L1507.4 1377.7L1507.8 1386L1508.2 1383.2L1509.2 1380.2L1509.6 1387.5L1510 1376.1L1510.3 1383.5L1511 1387.4L1511.4 1383.7L1511.8 1387.6L1512.1 1381.6L1512.5 1383.9L1512.8 1381L1513.2 1384.3L1513.9 1375L1515 1384.4L1515.4 1377L1515.7 1386.4L1516.4 1377.2L1516.8 1382.8L1517.2 1376.8L1517.5 1379L1517.9 1374.1L1519 1382.3L1519.7 1375.9L1520.4 1388.7L1520.8 1381L1521.5 1379.8L1521.8 1380.6L1522.2 1375.9L1522.6 1383.1L1522.9 1377.8L1523.3 1385L1523.6 1385.5L1524 1381.9L1524.4 1380.9L1524.7 1381.3L1525.1 1380.6L1525.4 1376.5L1525.8 1376.4L1526.2 1377.8L1526.5 1377.3L1527.6 1381.8L1528 1378.7L1528.3 1380.7L1529 1374.8L1529.4 1375.2L1529.8 1372.7L1530.5 1383.1L1531.2 1370.2L1531.9 1377.2L1532.3 1371.7L1532.6 1376.8L1533 1370.4L1533.4 1376.5L1533.7 1376.3L1534.1 1372.8L1534.4 1378.2L1535.2 1368.6L1535.9 1377.4L1536.6 1373.9L1537 1375.9L1537.7 1369.5L1538 1372.9L1538.4 1370.2L1539.5 1374.6L1540.2 1367.9L1540.9 1374.2L1541.3 1369.8L1541.6 1370.9L1542 1367.6L1543.1 1374.6L1543.4 1368.3L1544.2 1373.6L1544.9 1374.8L1545.2 1367.3L1546 1378.7L1546.3 1371.1L1547.4 1367.7L1547.8 1368.6L1548.5 1364L1548.8 1367.5L1549.2 1361.8L1549.6 1366.7L1549.9 1368.7L1550.3 1365.4L1550.6 1369.9L1551 1366.2L1551.4 1368.2L1552.1 1363.9L1552.4 1371.6L1552.8 1362.8L1553.5 1364.1L1553.9 1361L1555 1365.3L1555.3 1359.8L1555.7 1359.4L1556 1365.9L1556.4 1363.3L1556.8 1364.4L1557.1 1358L1557.8 1363.6L1558.2 1355L1558.6 1357.9L1558.9 1358.2L1559.3 1357.9L1559.6 1358.8L1560.4 1354.9L1561.1 1358.3L1561.8 1350.6L1562.5 1359.5L1562.9 1354.8L1563.2 1358.2L1563.6 1346.5L1564 1352.2L1564.7 1352.2L1565 1347L1565.4 1355.6L1565.8 1352.3L1566.1 1356.8L1566.5 1347.6L1566.8 1351.2L1567.2 1345.2L1567.9 1352.8L1568.6 1346.4L1569 1350.9L1569.4 1347.2L1569.7 1349.7L1570.4 1348.4L1570.8 1341.3L1571.2 1349L1571.9 1342.4L1572.6 1348.5L1573.3 1337.8L1574 1345.6L1574.4 1338.9L1575.1 1343L1575.5 1341.2L1575.8 1346.7L1576.2 1341.5L1576.6 1342.2L1576.9 1342L1578 1331.3L1578.4 1344L1579.4 1330.2L1580.2 1332.7L1580.5 1332.2L1580.9 1334.2L1581.6 1332.1L1582 1337.8L1582.3 1323.9L1582.7 1326.8L1583 1322.1L1583.8 1325.7L1584.1 1324.1L1584.5 1331.1L1585.2 1322.2L1585.9 1328.4L1586.3 1322.9L1586.6 1326.2L1587.4 1316.2L1587.7 1323.8L1588.4 1317.3L1588.8 1318.4L1589.2 1317.1L1589.5 1319.6L1589.9 1317.4L1590.2 1322.9L1591 1310.4L1591.3 1317L1592.4 1307.9L1592.8 1307.3L1593.1 1312.9L1593.8 1303.4L1594.2 1309.5L1594.6 1306.5L1594.9 1309.2L1595.3 1307.9L1595.6 1314.2L1596 1306.2L1596.4 1310.5L1597.4 1297.5L1598.2 1299L1598.9 1303L1599.2 1296.6L1599.6 1299.9L1600.3 1293.1L1600.7 1295.8L1601 1294.6L1601.4 1296.8L1601.8 1289.9L1602.1 1290.8L1602.5 1289.5L1602.8 1286L1603.2 1295.2L1603.9 1286.9L1604.3 1287.2L1605 1285.4L1605.4 1290.8L1606.1 1281.3L1606.4 1284.3L1606.8 1284.1L1607.2 1280.3L1607.5 1287.5L1608.2 1276.4L1609 1282.2L1609.3 1277.5L1610 1280.4L1610.4 1276.9L1610.8 1281.9L1611.1 1274.2L1611.5 1279.3L1612.2 1272.4L1612.6 1274.2L1614 1265.8L1614.4 1273.3L1614.7 1268.4L1615.1 1275.8L1615.8 1265.9L1616.2 1271.7L1616.9 1266.1L1617.6 1269.8L1618 1262.9L1618.3 1271.1L1619 1263.2L1619.4 1264.7L1619.8 1259.7L1620.1 1258.7L1620.5 1259.9L1620.8 1253.3L1621.2 1253L1621.6 1254.8L1622.5 1239.1L1622.6 1237.7L1623 1242L1623.4 1231.1L1623.7 1246.3L1624.1 1249.4L1624.4 1249.2L1624.8 1254.2L1625.2 1253.5L1625.5 1260L1626.2 1261.4L1627 1269L1627.7 1262.7L1628 1267L1628.4 1262.6L1628.8 1268.4L1629.1 1264.7L1629.5 1267.3L1629.8 1265.1L1630.9 1270.1L1631.3 1265.3L1631.6 1269.5L1632.4 1268.2L1632.7 1273.4L1633.1 1273.6L1633.8 1268.1L1634.2 1275.6L1634.9 1276.4L1635.2 1275.1L1635.6 1277.6L1636 1277.4L1636.3 1273.8L1636.7 1279.3L1637 1276.5L1637.4 1280.7L1638.1 1276.6L1638.5 1284.9L1638.8 1279.2L1639.2 1279.3L1639.6 1280.8L1640.3 1280.6L1640.6 1286.4L1641.7 1280.5L1642.1 1289.2L1642.4 1287.6L1642.8 1290.6L1643.2 1287.2L1643.9 1291.5L1644.6 1283L1645 1296.8L1645.3 1286.3L1645.7 1294.7L1646 1290.6L1646.4 1292.3L1646.8 1290.3L1647.5 1298L1648.2 1294.5L1648.6 1300.4L1648.9 1297.1L1650 1300.5L1650.4 1299.4L1650.7 1299.5L1651.8 1310.6L1652.2 1307.5L1652.5 1310.1L1652.9 1304.2L1653.2 1310.2L1654 1306.7L1654.7 1306.1L1655 1313L1655.8 1308.6L1656.1 1315.1L1656.5 1313.9L1656.8 1317.6L1657.6 1313.1L1658.6 1319L1659 1313.3L1659.7 1323L1660.1 1313.3L1660.4 1321.8L1660.8 1321.7L1661.5 1324.2L1661.9 1321.2L1662.2 1328.1L1662.6 1324.3L1663 1326L1663.3 1320.3L1663.7 1325L1664.8 1326.2L1665.1 1328.2L1665.5 1336.6L1665.8 1328.5L1666.2 1331.3L1666.6 1328.8L1668 1336.3L1668.4 1332.9L1669.1 1337.5L1669.8 1334.8L1670.2 1338.4L1670.5 1337.3L1671.2 1345.8L1671.6 1338.2L1672 1338.8L1672.7 1336L1673 1342.6L1673.4 1339.1L1674.1 1341.6L1674.5 1339.7L1674.8 1340L1675.2 1346.9L1675.6 1339L1675.9 1344.4L1676.6 1346.7L1677 1345.6L1677.4 1348.6L1677.7 1342.2L1678.4 1348.6L1678.8 1343.4L1679.2 1345L1679.5 1345L1680.2 1340.6L1682 1273.4L1683.5 1336.7L1683.8 1339.9L1684.2 1334.7L1685.7 1282.2L1687.1 1343.6L1688.2 1359.2L1688.5 1350.3L1689.2 1356.1L1690.3 1358.7L1690.7 1357.2L1691 1361.8L1691.4 1359.4L1691.8 1360.1L1692.1 1358.6L1692.5 1364.6L1692.8 1360.9L1693.2 1362.4L1693.6 1360.4L1694.3 1362.4L1694.6 1361.9L1695 1362.2L1695.4 1359.8L1696.4 1367.5L1697.5 1362.4L1697.9 1368.8L1698.2 1366.2L1698.6 1367.2L1699 1366.4L1699.3 1368.3L1699.7 1368.4L1700.4 1367.2L1700.8 1364.8L1701.1 1370.6L1701.5 1371.2L1701.8 1366.2L1702.9 1372.7L1703.3 1366.3L1703.6 1372.9L1704 1366.5L1704.7 1370.7L1705.1 1371L1705.4 1368.2L1706.2 1376.3L1706.5 1373.4L1706.9 1378L1707.6 1369.1L1708 1369L1708.3 1376.3L1708.7 1366.1L1709.8 1379L1710.8 1367.3L1711.6 1379.5L1712.3 1368.5L1713.4 1381.1L1713.7 1373L1714.1 1372.7L1714.4 1376.7L1715.2 1375.3L1715.9 1377.5L1716.6 1377.9L1717 1372.6L1717.3 1375.3L1718 1371.2L1718.4 1383.8L1719.1 1374.3L1719.8 1379.2L1720.2 1376.4L1720.9 1380.4L1721.6 1377.9L1722 1378.2L1722.4 1375.7L1723.1 1380L1723.4 1369.6L1723.8 1379.6L1724.5 1379.5L1725.2 1384.1L1726 1375.2L1726.3 1385.2L1727 1378.6L1727.4 1382.1L1727.8 1378.6L1728.5 1383.7L1728.8 1381.1L1729.2 1382.1L1729.6 1379L1729.9 1388.4L1730.6 1377L1731 1380.6L1731.4 1380.5L1731.7 1382.9L1732.1 1380.4L1733.5 1388.8L1733.9 1380.6L1734.2 1381.4L1734.6 1378.8L1735 1381.4L1735.3 1380.2L1736 1388L1737.1 1381.6L1737.8 1383.4L1738.6 1382.3L1739.3 1382.2L1739.6 1384.8L1740 1383.7L1740.4 1387.9L1741.4 1382.4L1742.2 1388.1L1742.5 1381.1L1743.2 1389.3L1743.6 1387.1L1744 1387.8L1744.3 1391.6L1745 1379.4L1745.4 1386.8L1745.8 1387.1L1746.1 1381.2L1746.8 1385.1L1747.2 1380.8L1747.6 1388.5L1748.3 1383.6L1749 1388.7L1749.4 1388.1L1749.7 1380L1750.1 1385.7L1750.4 1386.3L1750.8 1382.3L1751.2 1391L1751.5 1385.8L1751.9 1391L1752.2 1381.6L1752.6 1388.8L1753 1385.6L1753.3 1388.7L1754 1385.1L1754.8 1387.2L1755.1 1385.5L1755.8 1387.9L1756.6 1383.9L1756.9 1390.6L1757.6 1389L1758 1385.8L1758.4 1391L1758.7 1382.1L1759.1 1386.7L1759.8 1384.3L1760.2 1389.3L1761.2 1383.3L1761.6 1390.4L1762 1383.1L1762.7 1386.6L1763 1384.2L1763.4 1388.2L1763.8 1388.1L1764.1 1385.1L1764.5 1388.7L1765.2 1383.6L1765.6 1387.1L1766.6 1390.6L1767 1383.6L1767.4 1391.1L1768.1 1387.2L1768.4 1390.8L1769.2 1390.3L1769.5 1381.9L1769.9 1387.2L1770.6 1382.3L1771 1385.4L1771.3 1384.5L1772 1390.6L1772.4 1384.2L1772.8 1384.2L1773.1 1391.7L1773.5 1385.3L1773.8 1387.8L1774.9 1383.2L1775.3 1390.8L1776 1385.2L1776.4 1389.8L1776.7 1387.4L1777.1 1389.3L1777.4 1394.2L1778.2 1386.5L1778.9 1393.8L1780 1387.9L1780.3 1388.4L1780.7 1387.8L1781 1392.6L1781.4 1391.3L1781.8 1391.8L1782.8 1385.6L1783.2 1390.4L1783.6 1386.5L1783.9 1386.4L1784.3 1393.2L1785 1389.4L1785.4 1394L1785.7 1384.3L1786.1 1395.5L1786.8 1387.6L1787.2 1392.2L1787.5 1387.9L1787.9 1393L1788.2 1386.9L1788.6 1391.9L1789.3 1387.2L1789.7 1394.7L1790 1392.9L1790.4 1395.5L1791.1 1387.6L1791.5 1390.5L1792.2 1386.2L1792.9 1388.3L1793.3 1391.8L1793.6 1391.7L1794.7 1387.4L1795.4 1391.5L1796.2 1385.7L1796.5 1389.9L1796.9 1384.8L1797.2 1392.9L1797.6 1388.2L1798 1390.2L1798.3 1388.6L1798.7 1393.2L1799 1389.9L1800.5 1395.3L1801.2 1389.4L1801.6 1390.3L1802.3 1390.2L1802.6 1395.2L1803 1388L1803.7 1393.5L1804.4 1388.3L1805.2 1396.3L1805.5 1385.1L1805.9 1395.8L1806.2 1386.3L1807 1394.5L1807.3 1387.8L1807.7 1387.7L1809.1 1390.9L1809.5 1393.2L1810.2 1387.8L1810.6 1392L1810.9 1385.8L1811.3 1396.4L1811.6 1391.6L1812.4 1397L1812.7 1391L1813.8 1395L1814.2 1392.6L1814.5 1396.7L1814.9 1392.5L1815.6 1395.7L1816 1390.8L1816.3 1397.6L1816.7 1390.7L1817 1391.2L1817.4 1390.5L1817.8 1391.7L1818.1 1389.7L1818.8 1395.4L1819.2 1391L1819.6 1394.5L1820.3 1391.9L1820.6 1395L1821 1389.3L1821.4 1396.9L1821.7 1388.6L1822.1 1392.4L1822.4 1387.3L1823.9 1392.1L1824.2 1396.5L1824.6 1394.1L1825 1395.3L1825.7 1392.9L1826 1394.9L1826.4 1392.1L1827.1 1394L1827.8 1391.2L1828.2 1396.6L1828.9 1383.9L1829.3 1392.6L1829.6 1391.3L1830 1395.3L1830.7 1388.1L1831.4 1393.2L1831.8 1392.7L1832.2 1398.5L1832.5 1391L1832.9 1393.7L1833.2 1391.7L1834 1392.2L1834.3 1386.6L1835 1394.9L1835.4 1391.1L1835.8 1391.1L1836.1 1392.9L1836.5 1388.8L1837.2 1398.2L1837.9 1391.9L1838.3 1396L1838.6 1392.6L1839 1397.6L1839.4 1392L1840.1 1395.9L1840.8 1394L1841.2 1390.5L1841.9 1393.8L1842.6 1390.6L1843 1391.9L1843.3 1388L1843.7 1395.4L1844 1390.8L1844.8 1395.2L1845.1 1391.6L1845.8 1390.4L1846.6 1396L1847.6 1388.5L1848 1393.1L1848.4 1393L1848.7 1388.8L1849.4 1394.8L1850.2 1391.2L1850.9 1398.5L1851.6 1390.6L1852 1395.8L1852.3 1391L1853 1396L1853.4 1391.3L1853.8 1400L1854.5 1398.3L1854.8 1392.1L1855.2 1394.5L1855.6 1391.8L1856.6 1395.3L1857.4 1390.8L1858.1 1397.8L1858.8 1387.8L1859.5 1396.6L1859.9 1391.6L1860.6 1394.8L1861.3 1390.2L1861.7 1395.4L1862 1393.5L1862.4 1395.1L1863.1 1389.2L1863.5 1395.2L1863.8 1392.3L1864.6 1393.7L1864.9 1397.3L1865.3 1392.2L1865.6 1397.3L1866 1391.9L1866.4 1394.3L1866.7 1393.6L1867.8 1397.1L1868.2 1394.1L1868.5 1394.3L1868.9 1393.3L1869.2 1395L1869.6 1391.8L1870.7 1394.9L1871.4 1392.3L1872.1 1397.8L1872.5 1393.1L1872.8 1393L1873.2 1394.1L1873.6 1393.5L1873.9 1398.1L1874.6 1394.3L1875 1394.4L1875.4 1398L1875.7 1392.9L1876.1 1399.9L1876.4 1390.6L1876.8 1397.4L1877.2 1396L1877.9 1398.3L1878.2 1395.3L1878.6 1400L1879.3 1393.9L1879.7 1395.3L1880 1394.5L1880.8 1399.9L1881.5 1391.3L1882.2 1399.8L1882.6 1389.4L1882.9 1392.6L1883.3 1391.3L1883.6 1391.5L1884 1390.7L1884.4 1399.5L1884.7 1394.3L1885.1 1396.8L1885.4 1388.8L1886.9 1400.8L1887.2 1394.3L1887.6 1397.1L1888 1390.6L1889 1395.8L1889.4 1391.4L1889.8 1396.2L1890.1 1391.4L1890.8 1395.5L1891.6 1389.5L1891.9 1399.4L1892.3 1392.5L1892.6 1392.5L1893 1395.5L1893.4 1390.4L1894.1 1393.1L1894.4 1397.7L1894.8 1393.1L1895.2 1398.6L1895.9 1388.4L1896.2 1397.4L1896.6 1390.2L1897 1398L1897.7 1392.7L1898 1399.1L1898.4 1393.9L1898.8 1397.1L1899.5 1392.4L1899.8 1395.1L1900.2 1393.7L1900.6 1394.8L1901.3 1390.3L1902 1395.8L1902.7 1392.8L1903.1 1393.6L1903.4 1401.3L1904.5 1387.2L1904.9 1396.7L1905.2 1395.8L1905.6 1398.4L1906 1395.2L1906.3 1400.2L1907 1395.3L1907.4 1399.5L1907.8 1395.8L1908.1 1397.1L1908.5 1391.3L1909.2 1388.8L1909.6 1394.6L1910.3 1388.1L1910.6 1397L1911 1390.1L1911.4 1397.8L1911.7 1392L1912.1 1399.7L1912.4 1396.3L1912.8 1395.7L1913.2 1395.9L1913.5 1400.9L1914.6 1390.7L1915.3 1401.6L1916 1392L1917.1 1399.2L1917.5 1396.3L1917.8 1398L1918.2 1396L1918.6 1396.2L1918.9 1391.4L1919.3 1398.2L1919.6 1394.2L1920 1398.5L1920.7 1392.2L1921.4 1398.8L1921.8 1395.2L1922.2 1395.2L1922.5 1397.2L1922.9 1394L1923.2 1395.1L1923.6 1393.3L1924 1399.4L1924.7 1391.6L1925 1397.8L1925.4 1389.4L1926.1 1399.2L1927.2 1397.3L1927.9 1394.5L1928.6 1396.3L1929.4 1401.5L1929.7 1397.5L1930.1 1399.1L1930.4 1392.8L1930.8 1402.6L1931.2 1392L1931.5 1403.9L1931.9 1396L1932.2 1395.4L1932.6 1398.8L1933 1398.4L1933.3 1392.8L1933.7 1398.7L1934.8 1393.5L1935.1 1399.2L1935.5 1391.6L1935.8 1395.9L1936.2 1392.5L1936.6 1399.7L1936.9 1392.3L1937.3 1395.8L1937.6 1393.2L1938 1397.4L1938.4 1393L1939.1 1401.2L1939.4 1388.1L1939.8 1397.5L1940.2 1394.2L1940.9 1396.9L1941.2 1396.7L1941.6 1392.8L1942.3 1392.8L1942.7 1400.4L1943 1393.2L1943.4 1400.1L1943.8 1388.7L1944.1 1394.5L1944.5 1392.2L1944.8 1395.6L1945.2 1395.2L1945.6 1397.7L1945.9 1389.7L1946.3 1396.6L1946.6 1392.4L1947 1398.1L1947.4 1396.1L1947.7 1396.8L1948.1 1396L1948.4 1397.2L1948.8 1393.8L1949.2 1393.7L1949.5 1400.5L1949.9 1397L1950.2 1399.6L1950.6 1392.5L1951 1399.4L1951.3 1394.3L1952 1395.9L1952.4 1401.5L1952.8 1390.6L1953.1 1396.1L1953.8 1392.6L1954.2 1398.7L1954.6 1398.7L1954.9 1390.6L1955.3 1389.9L1955.6 1398.2L1956.4 1392.9L1956.7 1396.2L1957.1 1391.8L1957.8 1396L1958.2 1393.8L1958.5 1397.2L1958.9 1392L1959.2 1397.8L1960 1388.3L1960.3 1401L1960.7 1390.7L1961 1400.2L1961.8 1390.3L1962.5 1393.8L1963.2 1395.3L1963.6 1394.4L1964.3 1396.7L1964.6 1399.5L1965 1390.6L1965.4 1395.9L1965.7 1390.1L1966.8 1399.1L1967.5 1395.7L1968.2 1396.7L1968.6 1402.7L1969 1397.1L1969.3 1396.6L1969.7 1397.3L1970 1396.8L1970.4 1400.5L1971.1 1391.4L1971.5 1398.7L1971.8 1397.4L1972.2 1398.3L1972.6 1396.4L1972.9 1397.4L1973.3 1389.9L1973.6 1399L1974 1391.8L1974.4 1397.3L1975.1 1388.3L1976.2 1404.5L1976.5 1396.9L1977.6 1395.2L1978 1399.2L1978.3 1398.7L1978.7 1393.6L1979 1396.7L1979.8 1393.9L1980.1 1395.6L1980.5 1395.5L1980.8 1399.2L1981.2 1395.9L1981.6 1401L1981.9 1390.6L1982.3 1398.2L1982.6 1390.9L1983 1397.4L1983.7 1392L1984.1 1395.3L1985.9 1398.2L1986.2 1401.3L1986.6 1396.4L1987 1398.3L1987.7 1389.6L1988 1390.2L1988.4 1399.5L1989.1 1396.3L1989.5 1400.5L1989.8 1391.2L1990.6 1395L1990.9 1390.1L1991.6 1396.8L1992 1395.1L1992.4 1397.3L1992.7 1394.5L1993.1 1399.9L1993.4 1394.4L1993.8 1396.8L1994.5 1397.1L1994.9 1396.3L1995.2 1401.2L1995.6 1394.1L1996 1396.5L1996.3 1390.5L1996.7 1395.9L1997 1393.1L1998.1 1399.6L1998.5 1397.3L1998.8 1397.6L1999.2 1403.1L1999.6 1396.8L1999.9 1398L2000.6 1392.7L2001 1396.7L2001.4 1392.3L2001.7 1392.1L2002.4 1396.8L2003.2 1390.8L2003.9 1392.3L2004.6 1402.5L2005 1390.3L2005.3 1393.5L2005.7 1391.6L2006.4 1396.5L2006.8 1394.1L2007.1 1395.6L2007.5 1390.9L2008.2 1398.2L2008.9 1392.2L2009.6 1394.2L2010 1394L2010.4 1398.7L2011.1 1393.1L2011.4 1400.1L2011.8 1392.9L2012.9 1391.1L2013.2 1387.6L2014 1395L2014.7 1397.9L2015.4 1386.2L2015.8 1392.1L2016.7 1375L2017.4 1318.5L2018.7 1097.4L2020.1 1327.8L2020.8 1380.2L2021.2 1383.5L2021.5 1382.4L2022.2 1388.3L2022.6 1387.7L2023 1393L2023.3 1390.2L2023.7 1390L2024.4 1392.5L2024.8 1391.4L2025.1 1392.9L2025.5 1392.6L2025.8 1399.3L2026.2 1392.9L2026.6 1397.7L2027.6 1394.4L2028 1399.2L2028.7 1394.7L2029.1 1396.7L2029.4 1395.4L2030.2 1395L2030.5 1397.3L2031.2 1394L2031.6 1399.6L2032 1393.4L2032.3 1398.8L2032.7 1394.7L2033.4 1393.9L2033.8 1399.5L2034.1 1398.7L2034.5 1399.5L2034.8 1394.2L2035.6 1401.4L2036.3 1392.4L2036.6 1397.6L2037.4 1395.3L2037.7 1399.1L2038.4 1394.4L2038.8 1397.1L2039.5 1395.8L2039.9 1390.9L2040.2 1395.3L2040.6 1395.1L2041 1397.6L2041.3 1392.4L2042 1396.3L2042.4 1392.2L2042.8 1392.1L2043.1 1399L2043.8 1392.4L2044.2 1397.6L2044.6 1391.5L2044.9 1396.7L2045.3 1390.4L2046 1402.1L2046.7 1390.3L2047.1 1398.4L2047.4 1397.6L2048.2 1398.5L2048.5 1395.8L2048.9 1395.9L2049.2 1398.2L2049.6 1397.9L2050 1392.2L2050.3 1393.4L2051 1392.5L2051.4 1396.9L2052.1 1391.3L2052.5 1398.8L2052.8 1392.2L2053.2 1403.7L2055 1397.8L2055.4 1393.9L2055.7 1398.5L2056.1 1397.4L2056.8 1401.1L2057.2 1396.9L2057.5 1398.6L2057.9 1393.7L2058.6 1401.8L2059 1394.2L2059.3 1400L2059.7 1397.5L2060 1399.5L2060.8 1398.2L2061.1 1399.9L2062.9 1391L2063.3 1401.2L2064 1392.7L2064.4 1399.8L2065.4 1391.7L2066.5 1396.8L2066.9 1394.5L2067.2 1396L2067.6 1395.3L2068 1398.3L2068.3 1396.7L2069 1399.6L2070.5 1398.1L2070.8 1400.9L2071.9 1391.7L2072.3 1403.4L2073.7 1396.1L2074.1 1398.9L2074.4 1398.6L2074.8 1394.1L2075.5 1401.1L2076.2 1389.5L2077 1396.7L2077.3 1392.1L2078 1397.2L2078.8 1392.2L2079.8 1400.2L2080.2 1395.4L2080.6 1399.2L2080.9 1396.2L2081.3 1400L2081.6 1398.4L2082 1398.7L2082.4 1397.7L2082.7 1399L2083.1 1391.9L2084.2 1398.4L2084.5 1391.9L2084.9 1395.8L2085.6 1391.7L2086 1395.8L2086.7 1392.8L2087 1395.1L2087.4 1394L2087.8 1395L2088.1 1402.8L2088.8 1386.3L2089.2 1387.1L2089.6 1380.3L2089.9 1385.7L2091 1366.9L2093.4 1240.7L2095.3 1347.7L2096.8 1390.5L2097.5 1385.6L2098.2 1394.4L2098.6 1392.4L2099.3 1391.6L2099.6 1396.7L2100 1392.9L2100.4 1396.3L2100.7 1396L2101.1 1397.2L2101.4 1397.2L2101.8 1393.5L2102.2 1400.4L2102.9 1387.1L2103.2 1398L2104 1395.5L2104.3 1390.6L2104.7 1399.4L2105.8 1386.2L2106.1 1389.8L2106.5 1379.7L2106.8 1385.9L2107.2 1382.2L2108.3 1396.3L2109 1390.6L2109.4 1397.3L2109.7 1388.5L2110.4 1395.2L2110.8 1396.1L2111.2 1395.3L2111.5 1398.5L2111.9 1394.5L2112.2 1396.1L2112.6 1402.2L2113.3 1394.7L2113.7 1396.3L2114 1395.5L2114.8 1398L2115.5 1392.3L2115.8 1397.5L2116.2 1394.2L2116.6 1399.8L2116.9 1392.8L2117.3 1399L2118 1393.8L2118.4 1398.1L2119.1 1393.6L2119.4 1398.3L2120.2 1393.4L2120.9 1399L2122.3 1394.8L2122.7 1401.3L2123.8 1392.2L2124.1 1401.1L2124.8 1394.1L2125.2 1396.9L2125.6 1393.5L2126.3 1398.7L2127 1393.1L2127.7 1396.2L2128.1 1396.3L2128.4 1393.6L2129.2 1396.1L2129.5 1394.6L2130.2 1400.1L2130.6 1394.1L2131.3 1392.7L2132 1400.4L2132.4 1395.6L2133.1 1402.3L2133.5 1396.4L2133.8 1399.1L2134.2 1396.6L2134.6 1398.3L2134.9 1394.4L2135.3 1394.3L2135.6 1395.4L2136 1393.4L2136.4 1398.4L2136.7 1389.9L2137.1 1401.9L2137.8 1393.8L2138.2 1398L2138.5 1396.5L2138.9 1400.4L2139.6 1396L2140.3 1402.6L2140.7 1397.9L2141.4 1399.7L2141.8 1397.4L2142.1 1400.9L2142.5 1393.7L2142.8 1393.5L2143.6 1398.6L2143.9 1397.1L2144.3 1397.2L2144.6 1399.2L2145.4 1395.6L2145.7 1399.5L2146.4 1398.2L2146.8 1399.8L2147.2 1396.1L2147.5 1400.7L2147.9 1394.2L2148.6 1397L2149.3 1393.7L2149.7 1398.1L2150 1397.1L2150.4 1398.7L2151.1 1398.1L2151.8 1395.4L2152.2 1390.5L2152.6 1396L2152.9 1394.2L2153.3 1397.6L2153.6 1392.1L2154 1396.6L2154.7 1397.8L2155.1 1396.9L2155.4 1398.1L2156.2 1391.8L2157.2 1402.4L2157.6 1397.3L2158 1399.9L2159.8 1393.6L2160.1 1399.7L2160.5 1398.9L2161.2 1399.9L2161.6 1398.9L2161.9 1399.4L2162.3 1395L2162.6 1400.1L2163 1390.6L2163.4 1403L2163.7 1394.6L2164.1 1401.6L2164.4 1398.4L2164.8 1400.5L2165.5 1395.6L2166.6 1399.9L2167.7 1399L2168.4 1394.5L2169.1 1402.9L2169.8 1394.6L2170.2 1400L2170.6 1396L2170.9 1400.4L2171.3 1400.7L2171.6 1396.4L2172 1402.4L2172.4 1398.2L2172.7 1404.9L2173.4 1396L2174.2 1399.1L2174.5 1395.5L2175.2 1400.4L2176 1397.3L2176.3 1396.7L2176.7 1397.6L2177 1393.6L2177.8 1397.5L2178.1 1390.4L2178.5 1401.6L2178.8 1396.4L2179.2 1399.3L2179.6 1390.8L2179.9 1396.2L2180.3 1394.7L2180.6 1395.9L2181 1392.8L2181.4 1398.6L2181.7 1394.4L2182.1 1402L2182.8 1393.7L2183.5 1395.2L2183.9 1402.4L2185 1392.5L2185.3 1395.3L2186 1393L2186.8 1400.6L2187.1 1398.9L2187.5 1402.5L2187.8 1392.8L2188.6 1399.4L2188.9 1393.5L2189.3 1394.6L2189.5 1393.1L2191.1 1369.4L2192.2 1387.6L2192.5 1388.8L2192.9 1386.4L2193.2 1393.8L2194.3 1369.5L2195 1363.6L2196.3 1388.8L2197.6 1400.6L2197.9 1396.8L2198.3 1401.5L2198.6 1392.7L2199 1399.9L2199.7 1398.1L2200.1 1390.4L2200.4 1400.1L2200.8 1392.1L2201.2 1396.6L2201.5 1389.5L2202.2 1398.6L2202.6 1397.1L2203.3 1399.2L2203.7 1395L2204 1398.4L2204.4 1394.5L2204.8 1395.4L2205.5 1392.6L2206.2 1399.9L2206.6 1393.3L2206.9 1404.4L2207.3 1393.5L2207.6 1393.7L2208 1400.3L2208.4 1393.5L2208.7 1402.7L2209.1 1394.3L2209.4 1398.4L2210.2 1397.7L2210.5 1398.9L2210.9 1395.1L2211.2 1397.4L2212 1397.1L2212.7 1400.2L2213.4 1394.8L2213.8 1400.7L2214.1 1394.5L2214.5 1393.6L2214.8 1396.7L2215.2 1393L2215.6 1403.5L2215.9 1393.3L2216.3 1399.4L2216.6 1396.4L2217 1399.9L2217.4 1390.1L2217.7 1398.4L2218.1 1395.3L2218.4 1401.5L2219.2 1396L2219.9 1399.5L2220.2 1392.9L2220.6 1401.8L2221 1397L2221.7 1398.3L2222 1395.4L2222.8 1397.8L2223.1 1395.4L2223.5 1397.5L2224.2 1393.6L2225.3 1398.9L2225.6 1393.2L2226.7 1396.4L2227.1 1399.7L2227.8 1396.4L2228.2 1400.7L2228.9 1397.6L2229.2 1391.7L2230 1401.5L2230.3 1393.6L2231 1395.2L2231.4 1398.9L2232.1 1390.9L2232.5 1394L2232.8 1383.9L2233.2 1402.6L2233.9 1398.5L2234.3 1399.9L2234.6 1399.2L2235.4 1393.4L2235.7 1401.4L2236.1 1395.6L2236.4 1394.8L2236.8 1396.6L2237.2 1393.3L2237.9 1399.6L2238.6 1396.5L2239 1400.8L2239.7 1394.3L2240.4 1397.2L2240.8 1389.8L2241.8 1399.8L2242.2 1393.7L2242.6 1398.6L2242.9 1397.8L2243.3 1398.5L2243.6 1401L2244 1395.6L2244.4 1400.9L2244.7 1394.9L2245.1 1399.6L2245.4 1393.6L2245.8 1396.3L2246.2 1393.9L2246.5 1400.5L2247.2 1395.1L2248.3 1399L2248.7 1406.8L2249 1395.8L2249.4 1401L2250.1 1396.2L2250.5 1405.1L2251.2 1395.3L2252.3 1399.6L2252.6 1396.8L2253 1401.8L2253.7 1395L2254.1 1400L2254.4 1397.7L2254.8 1398.4L2255.5 1403.1L2255.9 1399.9L2256.2 1399.6L2256.6 1400.3L2257.7 1395.5L2258.4 1400.7L2258.8 1393.2L2259.1 1396.3L2259.5 1395.1L2259.8 1401.1L2260.6 1390.6L2260.9 1395.8L2261.3 1394L2261.6 1399L2262.7 1395.3L2263.1 1396.8L2263.4 1396.5L2264.2 1400.8L2264.9 1389.9L2265.2 1400.2L2266 1393.4L2266.7 1402.1L2267 1396.2L2267.8 1399.8L2268.1 1392.9L2268.8 1397.3" fill="none" stroke="#0000ff" stroke-width="4.4" stroke-linejoin="miter" stroke-miterlimit="2"/>
<path d="M2325 1397.2L2325.6 1398.4L2326.2 1397.9L2327.2 1398.3L2330 1397.6L2330.6 1397.9L2331 1397.6L2333.8 1398.6L2334.4 1398L2335.6 1397.9L2336 1397.9L2336.6 1398.5L2337.6 1398.4L2338.2 1397.6L2338.8 1398L2339.4 1398L2340.4 1398.5L2342 1397.8L2342.6 1398.1L2344 1393.3L2345.2 1397.3L2345.6 1397.7L2346.4 1397.6L2347.6 1398.2L2349.2 1397.7L2350.4 1398.5L2352 1397.6L2352.4 1397.7L2352.8 1396.9L2353.6 1393.8L2354 1393.3L2355.2 1396.9L2356.4 1398.5L2357 1397.9L2358 1398.8L2358.6 1398.3L2359.2 1398.7L2359.6 1398.5L2360.2 1397.5L2360.8 1397.1L2361.8 1397.8L2362.4 1397.3L2364 1398.9L2364.6 1397.7L2365.2 1398.9L2365.6 1399.1L2366.4 1398.2L2366.8 1398L2367.4 1398.3L2368 1397.7L2368.4 1398L2369.6 1397.9L2370.2 1398.2L2371.2 1397.1L2371.8 1398.3L2372.8 1397.8L2373.4 1398.2L2374 1398.1L2374.6 1398.6L2376.2 1397.6L2377.8 1398.4L2378.4 1397.4L2379 1397.9L2379.4 1398.6L2380 1398.1L2381.2 1398.3L2381.6 1398.6L2382.2 1398.2L2383.2 1398.1L2383.8 1397.7L2385.4 1398.6L2386.6 1397.6L2387.2 1397.7L2387.6 1398.1L2388.4 1397.7L2389.4 1398.2L2390 1397.9L2391 1398.4L2392.6 1397.6L2393.2 1398.4L2393.8 1397.9L2394.8 1398L2395.4 1398.5L2396 1397.5L2397 1397.4L2397.6 1397.8L2398.2 1397.5L2398.6 1397.7L2399.2 1397.6L2399.8 1398.1L2400.4 1397.9L2401.4 1398.4L2402 1398.2L2403 1398.4L2403.6 1398.2L2404.2 1398.2L2404.8 1397.2L2406.4 1397.7L2407 1398.3L2407.6 1398L2408 1398.5L2409.6 1398.2L2410.2 1397.7L2410.8 1398.3L2411.4 1397.2L2411.8 1398L2412 1398.1L2412.4 1397.7L2413 1398.6L2413.6 1397.7L2414.2 1398.4L2414.6 1398L2415.2 1398L2415.8 1397.7L2417.4 1398.1L2418 1397.3L2418.6 1398.2L2420.2 1398L2420.8 1398.3L2421.8 1397.8L2422.4 1398.2L2422.8 1397.9L2423.4 1398.2L2424 1397.5L2424.6 1398L2425.2 1397.4L2426.2 1398.1L2426.8 1397.6L2428.4 1397.5L2429 1397.7L2429.4 1398.3L2430 1397.7L2430.6 1398L2431.6 1397.6L2432.2 1398.2L2433.4 1397.1L2434.4 1398.1L2435 1397.5L2435.6 1397.9L2436.6 1397.5L2437.2 1398.6L2437.8 1397.9L2438.4 1398.5L2439.4 1397.8L2440 1398.4L2441.6 1397.9L2442.6 1397.8L2443.8 1398.3L2444.4 1397.9L2445 1398.3L2445.4 1398.3L2446 1397.7L2446.6 1398.3L2447 1398.3L2447.6 1397.6L2448.8 1398.8L2449.8 1397.3L2450.4 1396.9L2451 1398L2451.6 1397.7L2452.2 1397.7L2452.6 1397.8L2453.2 1398.5L2453.8 1397.6L2455.4 1398.5L2456.4 1397.9L2457.6 1397.7L2458 1397.8L2458.8 1397.3L2459.2 1397.3L2459.8 1397.9L2460.8 1397L2461.4 1396.8L2462.2 1392.8L2462.6 1382.7L2464 1251.3L2465.2 1371.1L2465.6 1389.5L2466.2 1396.1L2466.8 1397.4L2467.4 1397.7L2468 1396.8L2468.6 1397.6L2470.2 1397.5L2470.8 1398L2472.4 1397.4L2473 1397.7L2473.4 1397.3L2474 1397.8L2475 1397.8L2475.6 1395.2L2476.4 1387.2L2476.7 1386.1L2477.8 1395.4L2478.2 1397.3L2478.6 1397.8L2479.2 1397.9L2480 1397.5L2480.6 1397.7L2481.6 1397.5L2482.4 1397.9L2482.8 1397.4L2484 1398.4L2485 1397.9L2485.6 1398.5L2486.2 1397.1L2486.6 1397.7L2487.2 1397.6L2487.8 1398.3L2488.4 1397.8L2489.4 1397.9L2491 1393.9L2491.8 1396.3L2492.8 1397.8L2493.8 1398.4L2494.4 1397.6L2495 1397.5L2495.8 1395.9L2496.2 1392.7L2497.4 1369.2L2498.6 1392L2499.2 1395.7L2499.8 1390.1L2500.9 1368.7L2502.2 1393.7L2502.6 1395.7L2502.8 1395.8L2503 1395.4L2503.4 1391.7L2503.8 1379.3L2505 1295.6L2506.2 1378.2L2506.6 1390.2L2507 1393.2L2507.4 1390L2507.8 1376.8L2509 1289.2L2510.2 1376.3L2510.8 1390.4L2511.2 1387.1L2511.6 1369.3L2512.8 1246L2514 1368.9L2514.4 1387L2514.8 1392.4L2515.2 1393.7L2515.6 1391L2515.8 1387.1L2516.2 1369.5L2517.4 1247.5L2518.6 1368.7L2519 1386.8L2519.4 1391.2L2519.8 1386.8L2520.2 1369.3L2521.3 1281.2L2522.4 1369.6L2523 1390.2L2523.2 1391.3L2523.4 1390.3L2523.8 1381L2525.1 1285.3L2526.2 1370.9L2526.6 1387L2526.8 1389.2L2527.2 1386.3L2528.2 1365.4L2529.4 1391.3L2529.8 1395.3L2530.2 1396.9L2530.6 1396L2531 1392.9L2532 1371.2L2532.3 1368.5L2532.6 1371.2L2533.4 1390.8L2533.8 1395.2L2534.2 1396.6L2535 1397.6L2535.6 1397.4L2536.2 1398.8L2536.8 1397.7L2538 1397.9L2539 1397.4L2539.6 1397.6L2540 1398.1L2541 1397.5L2541.8 1397.8L2542.2 1397.8L2542.8 1398.8L2543.8 1397.9L2544.4 1398.4L2545 1397.6L2545.4 1397.5L2546.2 1398.3L2546.6 1398.4L2548.2 1397.7L2550 1398.3L2550.6 1397.9L2551 1398.2L2551.6 1397.6L2552.2 1397.8L2552.8 1398.5L2553.2 1397.9L2553.8 1398.4L2554.4 1397.7L2555 1398.2L2555.4 1397.6L2556.6 1397.3L2557.2 1397.9L2557.6 1397.9L2558.2 1397.5L2558.8 1398.4L2559.4 1398L2560.4 1398L2561 1398.5L2562 1398.6L2562.6 1397.3L2563.2 1398L2563.6 1397.7L2564.2 1397.6L2564.6 1396.9L2565.6 1389.6L2566 1388.3L2566.4 1389.6L2567.2 1396.2L2567.8 1397.5L2568.4 1395.8L2569.2 1388.7L2569.6 1387L2570.6 1395.5L2571 1397.1L2571.4 1397.5L2572.4 1397.2L2573 1397.4L2573.6 1397.2L2574.6 1395.2L2575 1392.1L2576.6 1364.5L2577 1361.7L2577.6 1367.7L2579 1391.8L2579.6 1395.5L2579.8 1395.9L2580.8 1396.3L2581.6 1393.5L2582.2 1385.3L2583.8 1328.1L2584.2 1322L2584.6 1326.9L2586.2 1386.5L2586.6 1391.8L2587 1394.5L2587.6 1396.1L2588 1396.1L2588.4 1395.7L2589 1391.2L2590.6 1361.6L2591 1358.4L2591.4 1361.5L2593 1391.3L2593.8 1396.4L2594 1396.9L2595 1397.4L2596.6 1397.4L2597.2 1398L2597.8 1397.3L2598.4 1397.5L2598.8 1398L2599.4 1397.5L2600.6 1398.3L2601.2 1398L2601.6 1398.4L2602.2 1397.5L2602.8 1398.3L2603.2 1397.6L2604 1398.2L2605 1397.5L2606 1398.5L2606.6 1398L2607.2 1398.6L2607.8 1397.8L2608.2 1398.3L2609.2 1398L2610 1398.4L2611 1397.3L2611.6 1398.3L2613.2 1397.5L2613.8 1398.3L2615.4 1397.6L2616 1398.2L2616.6 1397.1L2617 1397.2L2617.6 1398.5L2618.6 1398L2619.2 1398.2L2620.4 1398L2621 1398.3L2622 1397.9L2622.6 1398.1L2623.8 1397.6L2624.8 1397.9L2625.2 1397.4L2625.8 1398.1L2627 1397.4L2627.4 1397.8L2628 1397.7L2628.6 1398.2L2631.4 1397.8L2633 1398.2L2634.6 1398L2635.2 1398.4L2635.8 1397.5L2637.4 1398.2L2638 1397.6L2638.6 1398.1L2639.6 1397.8L2640.2 1398.2L2640.6 1398L2641.2 1398.2L2641.8 1397.8L2645 1397.7L2645.6 1398.3L2646.2 1398.4L2646.8 1398L2647.8 1398.1L2648.4 1397.4L2649 1397.8L2649.6 1397.6L2650.6 1398.5L2651 1398.5L2651.8 1397.6L2652.8 1398.1L2653.4 1397.4L2653.8 1397.3L2654.4 1397.7L2655.2 1396.8L2656.6 1389.8L2657 1390.8L2658 1397.4L2658.6 1397.8L2659.4 1397.7L2660 1398.5L2660.6 1398L2661 1398.2L2661.6 1397.3L2662.2 1397.9L2662.6 1398L2663.2 1397.1L2663.6 1396.9L2664 1395.2L2665.4 1373.1L2666.6 1393.7L2667 1397L2667.2 1397.6L2667.6 1397.9L2668.2 1397.5L2668.8 1397.9L2669.4 1397.4L2670.4 1397.7L2671.6 1397.1L2672.2 1394.3L2673.5 1372.5L2674.8 1393.8L2675.2 1396.4L2676 1397.7L2677 1397.7L2677.6 1398.1L2679.2 1397.9L2679.8 1398.6L2680.6 1397L2681 1395.5L2682 1389.4L2683 1395.8L2683.2 1396.5L2684.2 1398.1L2684.6 1397.2L2684.8 1397.2L2685.2 1398.1L2686.4 1397.5L2688 1398.2L2689.6 1397.7L2690.2 1398.8L2690.8 1397.8L2691.4 1398.4L2692.4 1398L2693 1398.2L2693.4 1397.9L2694 1398.5L2694.6 1397.8L2695.2 1398.3L2696.2 1398L2696.8 1398.5L2697.8 1397.3L2698.4 1398.1L2699 1398.3L2699.6 1397.4L2700 1397.4L2700.6 1398.6L2701.2 1398.1L2701.8 1398.3L2702.4 1397.9L2703.4 1398.4L2704.4 1397.7L2705 1398.2L2706.6 1397.4L2708.4 1398.3L2709.4 1397.5L2710 1397.8L2710.6 1397.6L2711.2 1398L2711.6 1397.7L2712.8 1398.2L2713.4 1398L2713.8 1397.6L2715 1398L2716 1397.7L2716.6 1398.1L2717.2 1397.5L2718.2 1398.1L2718.8 1398L2719.4 1398.3L2721.4 1398L2722.6 1398.1L2723.2 1397.7L2724.2 1398.7L2724.8 1397.3L2725.4 1397.7L2727.6 1397.2L2730.2 1397.5L2730.8 1398.4L2731.4 1396.8L2732 1397.1L2732.6 1397L2733 1396.2L2733.6 1396.1L2734 1395L2734.4 1392.2L2734.8 1381.7L2736.3 1192.9L2737.4 1348.6L2738 1387.2L2738.4 1392.6L2738.6 1393.5L2738.8 1393.5L2739 1393.2L2739.4 1390.7L2739.8 1380.3L2741.3 1195.7L2742.8 1381.2L2743.4 1393.6L2743.6 1394.4L2744 1394.2L2744.2 1394.5L2744.6 1395.8L2745.2 1395.7L2745.8 1396.2L2747.2 1393.9L2747.6 1391.6L2748.2 1371.8L2749.7 1082.3L2751 1352.2L2751.4 1381.8L2751.8 1389.3L2752 1390L2752.2 1389.3L2752.6 1382.2L2753 1354.6L2754.3 1102.3L2755.6 1356.5L2756 1384.8L2756.4 1392.4L2757.4 1395.3L2757.8 1395.8L2758.4 1396.1L2759 1397.2L2759.6 1397.3L2760 1396.6L2761.2 1397.9L2762.2 1397L2762.8 1397.9L2763.8 1398.4L2764.6 1397.7L2767.6 1398L2768.4 1397.5L2768.8 1397.8L2769.4 1397.6L2770 1398.5L2771 1397.5L2771.6 1397.8L2772.2 1397.6L2772.6 1398.2L2773.2 1397.7L2773.8 1398.1L2774.4 1397.9L2776 1398.3L2777 1397.6L2777.6 1398.2L2778.8 1398.2L2779.2 1398.2L2779.8 1397.7L2780.8 1398.2L2781.6 1397.6L2783.6 1398L2784.2 1397.6L2784.8 1398.1L2786.4 1397.5L2787 1397.9L2787.6 1397.6L2788.2 1398.3L2788.6 1397.8L2789.6 1397.8L2790.2 1398.4L2790.8 1397.6L2791.8 1398L2792.6 1397.3L2793 1397.8L2793.6 1397.4L2794.2 1398.2L2794.8 1397.5L2795.8 1397.5L2796.4 1397.9L2796.8 1397.5L2797.4 1397.5L2798 1396.9L2799 1397.7L2799.6 1396.7L2800.2 1397.2L2802.2 1394.3L2802.6 1392.7L2803.2 1378.3L2803.8 1300.1L2804.8 1072.5L2806.2 1363.1L2806.8 1389.9L2807.2 1393.3L2807.8 1394.7L2808.4 1394.8L2809 1395.4L2809.4 1395.1L2810.4 1392.5L2810.6 1391.3L2811.2 1372.4L2812.7 1089.4L2814 1353.1L2814.4 1382.5L2814.8 1390.4L2815.2 1392L2815.4 1392L2815.6 1391.5L2816 1385.7L2816.4 1364.3L2817.7 1168.8L2819 1365L2819.4 1386.9L2820 1394L2820.6 1395.6L2821.2 1395.6L2821.6 1396.2L2822.2 1395.8L2822.8 1396L2823.4 1395.4L2824 1392.6L2824.4 1384.4L2825 1332.9L2826 1179.7L2827.2 1357.8L2827.6 1384.7L2828.2 1394.4L2828.8 1396.1L2829.8 1396.4L2830.4 1397.3L2831 1397.2L2831.6 1397.7L2832.6 1397.2L2834.2 1397.7L2834.8 1396.9L2836.4 1397.7L2837.2 1397.2L2839.2 1398.2L2839.8 1397.3L2840.8 1397L2841.4 1397.7L2842 1397.5L2842.6 1398.5L2843.2 1397.7L2843.6 1398.1L2844.2 1398.2L2845.4 1398.2L2846.4 1397.7L2847 1398.1L2848 1398L2848.6 1397.2L2849.6 1398L2850.8 1397.3L2851.4 1397.9L2852.4 1397.5L2853 1398.4L2853.6 1397.9L2854.2 1397.9L2855.2 1397.4L2856.2 1398.4L2857.4 1397.9L2858 1398.1L2858.6 1397.9L2859 1398.3L2859.6 1397.7L2860.6 1397.2L2861.2 1397.9L2861.8 1397.5L2862.4 1398.1L2863.4 1398.2L2864 1397.9L2865 1398.5L2865.6 1397.1L2866.2 1397.9L2867.2 1397.7L2868 1397.9L2869 1397.3L2869.6 1397.4L2870 1397.2L2870.6 1397.9L2871.2 1397.2L2871.8 1397.5L2872.2 1397.4L2873.6 1395.1L2874 1392.7L2874.4 1383.8L2874.8 1355.1L2876 1160.8L2877.4 1372.6L2877.8 1389.4L2878.2 1393.9L2878.8 1396.8L2879 1397L2879.4 1396.8L2880.4 1397.3L2881 1397L2881.6 1397.9L2882.2 1398.4L2882.6 1397.7L2883.2 1397.7L2883.8 1397.3L2884.8 1397.6L2885.4 1397.3L2886 1398.3L2886.6 1397.9L2887 1398.2L2887.6 1397.3L2888.2 1398L2888.8 1397.5L2889.4 1397.7L2891 1397.5L2892 1397.8L2892.6 1397.6L2893.2 1398.6L2894.2 1397.5L2894.8 1397.7L2895.4 1398.4L2896.4 1398.4L2897.6 1397.6L2898 1397.9L2898.6 1397.7L2899.2 1398.4L2899.8 1398L2901.4 1397.7L2902 1397.9L2903 1397.5L2904.2 1398.3L2905.2 1398.2L2905.8 1397.4L2907.4 1398.1L2908 1398.1L2908.6 1397.4L2909.2 1398L2909.8 1398.2L2910.2 1398.2L2910.8 1397.8L2911.4 1398.5L2912.4 1397.7L2913.4 1397.7L2914 1398L2915.2 1397.4L2915.8 1398.2L2917.4 1397.9L2918.4 1398.1L2919 1398.7L2919.6 1397.6L2920.2 1398.2L2920.6 1397.9L2921.2 1398.1L2921.8 1397.7L2922.4 1398.3L2923.4 1397.8L2924.4 1398L2925 1397.7L2926.8 1398.1L2927.8 1397.4L2928.4 1397.8L2929.4 1397.4L2930 1397.8L2930.6 1397.9L2931.6 1397.1L2932.2 1397.7L2933.2 1397.4L2934.4 1397.5L2935 1396.9L2935.4 1397.5L2935.6 1397.5L2936.8 1395.1L2937.8 1390.9L2938.8 1381.8L2940 1367.1L2940.4 1364.1L2940.8 1362.9L2941.2 1363.8L2941.6 1366.4L2943.6 1387.8L2944 1389.9L2944.4 1390.6L2944.6 1390.6L2945.2 1387.4L2946 1376.2L2947.8 1323.6L2948.6 1308.2L2948.8 1307.5L2949 1308.5L2949.4 1314.1L2951.2 1364.3L2951.8 1375.4L2952 1377.6L2952.2 1378.5L2952.4 1378.4L2953 1373.1L2953.4 1365.2L2955.2 1310.2L2955.6 1303L2955.9 1301.2L2956.2 1302.7L2956.6 1309.9L2958.6 1371.9L2959.2 1382.9L2959.8 1389.5L2960.2 1391L2960.4 1391.1L2960.6 1390.7L2961.4 1386.4L2963.2 1363.5L2963.8 1357.6L2964.2 1355.9L2965 1361.9L2967.4 1391.8L2968.2 1394.9L2968.8 1396.2L2969.4 1396.8L2971.2 1397.8L2971.8 1396.7L2972.4 1397.7L2972.8 1398L2973.4 1397.5L2974.4 1397.9L2975.2 1396.7L2976.2 1398.4L2976.8 1397.9L2979 1397.6L2979.4 1397.2L2980.2 1397.9L2980.6 1397.9L2981.2 1397.4L2981.6 1397.4L2982.8 1398L2983.4 1397.4L2985 1397.5L2987.2 1397.9L2987.8 1398.3L2988.4 1397.7L2988.8 1397.6L2989.4 1397.6L2990 1398.1L2991 1397.5L2991.6 1397.5L2992.2 1398.3L2992.6 1398.4L2993.2 1397.9L2993.8 1398.5L2994.4 1397.3L2994.8 1397.8L2995.4 1397.7L2996 1398.6L2996.6 1397.9L2997.2 1398L2997.6 1398.4L2998.2 1397.3L2998.8 1397.9L3002 1397.8L3002.6 1398.5L3003.2 1398L3003.6 1398.3L3004.2 1397.9L3005.4 1398.5L3006 1397.5L3006.4 1398L3007 1398.1L3008.2 1398L3009.2 1397.4L3009.8 1398.1L3010.8 1397.7L3011.4 1398.4L3012 1397.7L3012.4 1397.6L3014 1398.3L3014.8 1397.7L3015.2 1398.2L3015.8 1397.9L3016.4 1398.4L3017 1398.2L3017.4 1398.5L3018.6 1397.8L3019.2 1398.4L3020.8 1398.2L3021.2 1398.4L3021.8 1398L3022.4 1398.2L3023 1397.8L3025 1397.8L3025.6 1398.5L3026.2 1397.4L3026.8 1398.7L3027.4 1397.6L3028.4 1398.7L3029 1398.5L3029.6 1398.7L3030.2 1398L3030.6 1398.1L3031.2 1397L3031.8 1398L3032.2 1398.2L3033.4 1396.9L3034 1398.3L3035 1398.1L3035.6 1398.5L3036.2 1398.2L3036.8 1397.4L3038.4 1397.9L3038.8 1397.6L3039.4 1398.5L3040 1397.5L3040.6 1398.5L3041.6 1397.9L3042.2 1398.4L3042.8 1397.9L3043.8 1397.6L3044.4 1398.1L3046.6 1398.1L3048.2 1397.6L3048.8 1397.9L3049.4 1399L3049.8 1398.1L3050 1398L3050.6 1398.6L3051.6 1397.9L3052.2 1398.8L3053.2 1397.9L3054.8 1398.5L3055.4 1397.3L3056 1398.5L3057 1397.8L3057.6 1398L3058.6 1397.6L3059.2 1398.3L3059.8 1397.8L3060.4 1398.2L3061 1398L3062 1398.3L3062.6 1398L3063 1398.3L3063.8 1396.9L3064.2 1397L3064.8 1398L3065.8 1399L3066.4 1398.7L3067 1397.6L3067.6 1398.4L3068 1398.2L3070.2 1398.1L3070.8 1397.4L3071.4 1397.8L3071.8 1397.3L3072.4 1397.8L3073 1397.9L3073.6 1397.2L3074 1398L3074.2 1398.1L3074.6 1397.5L3075.2 1398.3L3075.8 1397.5L3077.4 1398.1L3078 1397L3079 1398.1L3079.6 1397.1L3080.2 1398.2L3080.6 1397.7L3081.2 1397.6L3081.8 1397.9L3082.4 1397.7L3082.8 1398L3083.4 1397.8L3084 1398.2L3085.6 1397.8L3086.2 1398L3086.8 1397.4L3087.2 1398L3087.8 1397.1L3088.4 1397.9L3089.4 1398L3090 1397.5L3090.6 1398.1L3091.2 1397.6L3092.2 1398.5L3093.4 1397.3L3093.8 1398.1L3094 1398.1L3094.4 1397.6L3095 1398.3L3095.6 1397.5L3096.2 1398.3L3097.2 1397.8L3098.2 1397.8L3098.8 1396.8L3099.8 1396.3L3101.2 1392.8L3101.8 1392L3102.4 1392.3L3102.8 1393L3104 1396.1L3104.4 1396.5L3104.8 1396.3L3105 1396.5L3106 1398.5L3106.6 1397.9L3107.6 1398.2L3108.2 1397.9L3108.8 1398L3109.8 1397.3L3110.4 1398.5L3111 1398L3111.6 1398.5L3113 1397.7L3113.8 1397.9L3114.2 1397.2L3114.8 1398.5L3115.4 1397.8L3116.4 1397.7L3117.6 1396.1L3118.8 1391.7L3119.8 1389.9L3120.8 1391.8L3121.8 1395.6L3122.4 1397L3123 1397.2L3123.6 1397.9L3124.2 1397L3124.8 1397.9L3125.8 1398.2L3127.4 1397.8L3128 1398.2L3129.2 1398L3130.2 1398.3L3130.8 1397.9L3131.8 1398L3132.4 1397.8L3133 1398.3L3134 1397.7L3135.6 1398.1L3136.2 1398L3136.8 1398.4L3137.4 1397.1L3138 1397.7L3139 1397.5L3139.6 1397.8L3140.6 1397.7L3141.8 1398.5L3142.2 1397.7L3142.8 1397.3L3144 1397.8L3145.6 1397.3L3146.2 1397.5L3146.6 1397.3L3147.2 1398.3L3147.8 1397.3L3148.4 1397.4L3149 1398L3150.6 1397.1L3151.6 1397.1L3152.2 1397.5L3153.2 1397.3L3154.4 1397.7L3155 1397.1L3155.6 1397.3L3156.6 1396.7L3157.2 1398L3158.2 1396.7L3158.8 1397L3159.4 1396.3L3160 1397L3160.4 1396.6L3162 1396.5L3162.6 1395.9L3163.6 1395.7L3164.4 1394.6L3165.4 1394.4L3167.6 1390.1L3169 1384.8L3169.8 1379.2L3170.8 1366.7L3172 1325.8L3172.8 1250.9L3173.4 1101.8L3173.8 863.8L3174.4 98L3176.4 98L3177 863.6L3177.4 1101.6L3178 1250.6L3178.6 1313.3L3179.8 1360.7L3180.4 1370.8L3181.4 1380.2L3182 1383.4L3183 1386L3184 1387.5L3184.2 1387.5L3184.6 1386.6L3185.2 1386.4L3186.2 1384.3L3187.2 1379.7L3188.2 1369L3188.8 1358.5L3189.8 1319.2L3190.6 1233.8L3191.4 942L3192 98L3194.2 98L3194.6 766.2L3195.2 1137.7L3195.6 1234.7L3196.2 1306L3197 1348.1L3198.2 1373.8L3199.4 1384.3L3200.4 1388.6L3201.8 1392.3L3202.8 1393.9L3203.4 1394.1L3204.4 1395.4L3205 1394.8L3206 1396.1L3207.8 1395.8L3208.2 1396.3L3208.8 1396.4L3209.4 1397.1L3210 1396.2L3210.6 1397.1L3212.2 1396.8L3212.8 1397.2L3213.8 1397.2L3214.4 1396.7L3216 1397.2L3216.6 1397.8L3217.2 1397.7L3217.6 1397.9L3218.2 1396.7L3218.8 1398.2L3220.4 1397.7L3221 1398.2L3222 1397.3L3222.6 1398.2L3223.2 1397.2L3224.2 1397.9L3224.8 1398.7L3225.8 1397.7L3226.4 1397.8L3228 1397.7L3228.6 1397L3229.2 1397.4L3229.8 1397.1L3230.8 1398.4L3231.4 1397.7L3232 1397.5L3232.6 1397.9L3233 1397.3L3233.6 1397.5L3234.2 1398.1L3234.8 1397.1L3236.4 1397.7L3236.8 1397.1L3237.4 1398.2L3238.6 1396.8L3239 1396.7L3239.6 1397L3240.2 1396.5L3240.8 1397.3L3241.2 1397.4L3242 1396.3L3243 1396.8L3243.6 1396.4L3244.6 1396.5L3245.6 1395.8L3246.2 1396.4L3246.4 1396.4L3248.4 1395L3249 1395L3251 1392.1L3252.8 1387.2L3253.4 1384.3L3254.4 1375.7L3255.2 1364.4L3256.2 1331.6L3256.8 1288L3257.6 1137.6L3258.2 765.4L3258.6 98L3260.8 98L3261.4 942.3L3261.8 1137L3262.6 1287.8L3263.6 1346.9L3264.4 1366.9L3265.2 1375.8L3266 1382.4L3267 1385.9L3267.2 1386.4L3268.2 1387.3L3268.8 1386.9L3269.4 1387L3270.4 1385.3L3271.6 1380.5L3272.6 1371L3273.6 1350L3274.4 1312.7L3275 1249.9L3275.4 1167.8L3276 864.2L3276.6 98L3278.6 98L3279.2 864.1L3279.6 1102L3280.2 1250.5L3281 1326L3281.6 1351.6L3282.2 1365.6L3283 1376.6L3284 1384.3L3285.8 1391.6L3286.4 1392.6L3287 1392.6L3287.6 1394.1L3289.2 1395.3L3289.6 1394.9L3289.8 1395L3290.2 1395.8L3290.8 1395.4L3291.4 1396.2L3292.4 1396.5L3293 1397.1L3293.6 1396.6L3294 1396.6L3295.8 1397.3L3296.4 1397L3296.8 1397.4L3297.8 1397.6L3298.6 1396.9L3299.6 1397.6L3300.2 1397.1L3301.2 1397.9L3301.8 1397.5L3302.8 1397.2L3303.4 1398.2L3304.6 1397.2L3305.6 1397.7L3306.2 1398.4L3306.8 1397.8L3307.8 1398.1L3308.4 1397.7L3309 1398.1L3310 1397.5L3310.6 1397.9L3311.2 1397.4L3311.8 1397.3L3312.2 1397.3L3312.8 1398.2L3314.4 1398.4L3317.2 1397.3L3317.8 1398L3319.4 1398.3L3320.4 1397.4L3321.6 1398L3322.6 1397.5L3323.2 1398L3323.8 1397.6L3324.8 1398L3325.4 1397.5L3326 1397.5L3327.6 1398.3L3328.2 1398.2L3328.8 1397.4L3329.4 1397.8L3331.4 1397.7L3332 1398L3332.6 1396.9L3333.2 1397.1L3333.8 1395.6L3334.2 1395.4L3335 1392.3L3335.8 1389.9L3336 1389.9L3338.6 1396.2L3339.2 1396.5L3340.8 1398.6L3341.4 1398.1L3342.6 1398.2L3343.6 1397.3L3344.6 1397.7L3345.2 1397.7L3345.8 1398.2L3346.4 1397.5L3346.8 1398L3347.4 1397.8L3348 1398.2L3348.6 1398L3349.6 1397.2L3350.2 1398.2L3351.2 1395.8L3352 1394.8L3353 1392L3353.4 1391.8L3353.8 1391.9L3354.2 1392.6L3355.2 1395.9L3356.2 1397.2L3356.8 1397.1L3357.4 1398.4L3357.8 1398.3L3358.4 1397.2L3359 1398L3359.6 1397.4L3360 1398L3360.6 1397.6L3361.2 1398.4L3361.6 1398.4L3362.8 1397.8L3363.4 1398L3364 1397.4L3364.4 1398L3365 1397.6L3365.6 1398.1L3366 1398.1L3366.8 1397.4L3367.4 1397.5L3367.8 1397.3L3369.8 1388.9L3370.2 1387.8L3370.6 1387.5L3371.4 1388.9L3372.2 1391.8L3372.8 1395.3L3373.2 1396.2L3374.4 1397.4L3375.2 1397.9L3375.6 1398L3376 1397.6L3377.6 1398.5L3378.4 1397.7L3379.4 1397.8L3379.8 1398.2L3380.6 1397.6L3382 1398.4L3383.2 1397.6L3383.8 1398.6L3384.4 1397.8L3385 1398.1L3386.6 1397.7L3387.6 1398.5L3388.2 1397.8L3389.2 1398L3389.8 1397.4L3390.4 1398.1L3391.4 1397.6L3392 1397.9L3394.8 1398.3L3396.8 1398.1L3397.4 1397.6L3398.2 1398.5L3398.6 1398.3L3399.2 1397.6L3400.8 1397.9L3401.4 1397.1L3402 1397.9L3403 1397.5L3403.6 1398.3L3404.6 1398.1L3405.2 1398.6L3405.8 1397.7L3406.4 1397.4L3407.4 1398.2L3408.4 1398.3L3409.6 1397.8L3410.2 1398.4L3410.6 1397.8L3411.4 1398.5L3413 1397.7L3414 1398.5L3414.6 1398.5L3415.2 1397.9L3416.2 1397.8L3416.8 1398.5L3417.4 1397.8L3417.8 1397.7L3418.4 1398.3L3419 1398.3L3419.4 1397.8L3420 1398.3L3421.2 1397.5L3421.8 1398.2L3422.2 1397.9L3423.4 1397.8L3424.4 1397.8L3425 1398.2L3426.6 1397.5L3427.2 1397.7L3427.8 1397.4L3428.8 1397.9L3430 1397.7L3430.6 1398.5L3431 1398L3431.6 1398.7L3432.2 1397.7L3432.6 1397.5L3433.2 1397.8L3434.8 1397.8L3435.4 1398.1L3436 1397L3436.6 1397.6L3437.2 1397.6L3437.6 1397.9L3438.8 1397.6L3439.8 1398.1L3440.4 1397.5L3441 1398.2L3441.6 1397.8L3442 1397.8L3442.6 1398.5L3443.2 1397.6L3444.2 1398.1L3444.8 1397.6L3445.4 1398.3L3446 1397.6L3447 1398.1L3447.6 1397.6L3448.6 1398.2L3449.6 1397.9L3450.4 1398.5L3451.4 1398.1L3452 1397.4L3453 1398.3L3454.8 1397.5L3457.4 1398.6L3458 1398.3L3458.6 1397.2L3459.6 1398.2L3460.8 1397.4L3461.4 1398L3462.4 1397.4L3463 1398L3464 1398.2L3464.6 1397.7L3465.2 1398.2L3466.2 1397.7L3467.2 1398.5L3468 1397.9L3469.6 1398.2L3470.2 1397.6L3471.2 1397.9L3472.4 1397.9L3473.4 1398.4L3475 1397.1L3475.6 1397.9L3476.6 1398.2L3477.2 1397.6L3477.8 1398.5L3478.4 1398.2L3479 1398.3L3480 1397.8L3481.2 1398.3L3482.2 1397.6L3483.4 1398.5L3484.4 1397.4L3485 1398L3485.6 1397.8L3487 1397.9L3487.8 1397.2L3488.8 1398.5L3489.4 1397.7L3489.8 1397.9L3490.4 1397.8L3492.2 1397.9L3493.2 1398.4L3493.8 1398L3494.4 1398.4L3495.4 1397.5L3496 1397.5L3496.6 1397.9L3497.6 1397.7L3498.8 1398.3L3499.2 1398.2L3499.8 1397.3L3500.4 1398.2L3501 1398.1L3501.4 1397.8L3502 1398.3L3502.6 1398L3503 1398.3L3503.6 1397.6L3504.2 1397.8L3504.8 1397.1L3505.8 1398.3L3506.4 1398.2L3507 1399.2L3508 1398L3509.2 1398.5L3510.8 1397.4L3511.4 1398L3513 1398.4L3513.6 1397.7L3514.6 1398.2L3515.2 1397.5L3516.2 1397.7L3516.8 1398.3L3517.4 1398.1L3518 1398.3L3519.6 1397.5L3520.6 1397.7L3521.4 1398.4L3522.8 1398L3523.6 1398.1L3525 1397.6L3526.6 1398.2L3527.4 1397.9L3528.4 1399L3529 1397.2L3529.6 1397.4L3530.6 1398.4L3531.2 1397.2L3532.2 1397.8L3532.8 1397.8L3533.4 1396.7L3534 1396.5L3535.6 1394.3L3536.2 1394.7L3537 1394.3L3537.2 1394.3L3538.2 1396.4L3539.4 1397.1L3540 1398.1L3541 1397.7L3542.2 1398.4L3543.2 1397.8L3544.4 1397.8L3545.4 1398.4L3546 1397.6L3547.2 1396.9L3548.2 1395.8L3549.2 1395.6L3549.8 1396.7L3550.4 1396.5L3551 1397.2L3552.6 1398.1L3553.2 1397.3L3554.8 1398.1L3555.4 1397.6L3556 1397.9L3557 1397.5L3557.6 1398L3558.6 1397.5L3559.2 1397.6L3559.8 1398.3L3560.4 1398.5L3561.4 1397.6L3562 1398.2L3563 1397.9L3564 1396.6L3564.8 1396.6L3567.4 1392.7L3568 1393.1L3568.4 1392.9L3568.6 1393.1L3569 1394.5L3569.2 1394.8L3569.6 1394.8L3570.2 1396.8L3570.8 1397.6L3572.2 1397.1L3575.2 1395.1L3576.8 1397.1L3577.4 1396.7L3579 1397.7L3580.2 1397.9L3580.6 1398.4L3581.8 1398.1L3582.8 1397.6L3583.4 1398.4L3584 1397L3585 1398.7L3585.6 1397.8L3586 1397.7L3586.8 1398.1L3587.2 1397.9L3587.8 1398.5L3588.4 1397.9L3588.8 1398L3590 1397.7L3590.6 1398L3591 1398.9L3591.2 1398.9L3591.8 1397.9L3592.8 1398.2L3593.8 1397.8L3595 1398L3595.4 1397.5L3596.2 1398.3L3597.2 1397.5L3598.2 1397.6L3598.8 1397.2L3599.4 1397.5L3600 1398.3L3601 1397.2L3601.6 1398.1L3602 1397.8L3602.8 1398.4L3603.2 1398.3L3603.8 1397.7L3604.8 1398.3L3605.4 1397.5L3606 1398.2L3606.6 1397.9L3607.6 1398.4L3608.2 1398L3608.8 1398L3609.2 1397.6L3609.8 1398.4L3611.4 1397.6L3612 1398.2L3613 1397.6L3614.6 1398.2L3615.2 1397.9L3615.8 1398.1L3617.4 1397.9L3618 1398.2L3618.6 1397.5L3619.6 1397.9L3620.2 1397.7L3620.8 1398.3L3621.8 1397.8L3622.6 1398.3L3624 1398.6L3625.6 1397.9L3626.2 1398.5L3626.8 1397.9L3627.4 1398.4L3628.4 1397.5L3629 1398.4L3629.6 1397.4L3630.2 1398.2L3631.2 1398.3L3632.4 1397.4L3633 1398.6L3633.4 1398.8L3634.6 1397.2L3635.2 1397.8L3635.6 1397.4L3636.2 1398.7L3636.8 1397.8L3637.4 1398.2L3638.4 1397.9L3639 1398.2L3639.6 1398.1L3640 1398.5L3640.6 1398L3641.2 1398.6L3641.8 1397.5L3642.2 1397.4L3643.4 1398.6L3644 1397.6L3644.4 1398.1L3645 1397.9L3645.6 1398.4L3646.2 1397.7L3646.6 1398.1L3648.2 1398.1L3649.4 1397.5L3650 1398L3651.6 1397.7L3652.6 1398.3L3653.2 1397.5L3653.8 1397.3L3654.8 1398.1L3656 1397.7L3657.6 1398.4L3658.8 1397.9L3660.4 1398.4L3661 1398L3661.6 1398.7L3662.6 1397.8L3663.2 1398.7L3664.2 1397.5L3664.8 1398.3L3665.8 1398.7L3666.4 1397.7L3667 1398.8L3667.6 1398L3668.2 1398.5L3668.6 1398L3669.8 1397.8L3670.2 1398.4L3670.8 1398.2L3671.4 1398.7L3672.4 1397.8L3673 1398.3L3673.6 1397.7L3674.2 1397.8L3675.2 1397.4L3675.8 1398.1L3676.4 1397.5L3677.4 1398.4L3678 1397.7L3679 1398.8L3679.6 1397.9L3680.8 1397.5L3681.8 1397.9L3682.4 1398.9L3683.4 1397.6L3684 1398.4L3684.6 1397.7L3685 1397.6L3685.6 1398L3686.8 1398L3687.4 1398.7L3688.4 1397.9L3689 1398.2L3690 1397.5L3692.2 1398.3L3692.8 1397L3693.4 1397.9L3694.6 1397.3L3696.2 1398.4L3698.2 1397.6L3699 1398.3L3699.4 1397.9L3700 1398.2L3701 1397.8L3701.6 1398.4L3702.2 1397.7L3703.2 1397.7L3703.8 1397.7L3704.4 1398.2L3705.4 1397.5L3706.6 1398.3L3707.2 1397.6L3708.8 1398.5L3710.4 1397.6L3711 1398.3L3711.6 1398.3L3712.2 1397.8L3713.2 1398.4L3713.8 1397.4L3714.8 1397.8L3717 1397.5L3717.6 1398L3718.2 1397.7L3718.8 1398.1L3719.8 1397.4L3720.4 1396.5L3721.4 1392.8L3722.2 1383.9L3723.4 1364.8L3724 1360.3L3724.2 1360.4L3724.4 1362.1L3725.8 1383.7L3726.8 1393.9L3727 1395.3L3728 1397.6L3728.6 1396.9L3729.2 1398L3730.4 1397.6L3731.8 1397.9L3733.4 1397.6L3734 1397.9L3734.6 1397L3735.2 1397.7L3735.8 1397.5L3736.4 1398.2L3737.4 1397.7L3738 1398.7L3738.6 1397.9L3739.6 1398.2L3740.6 1397.5L3741.2 1398.2L3741.8 1398.3L3742.4 1397.5L3743.4 1397.9L3744 1397.7L3745.6 1397.9L3746.2 1397.7L3746.8 1398L3747.4 1397.6L3747.8 1398.1L3748.4 1396.8L3749 1397.3L3749.8 1396.7L3750.6 1395.2L3751.2 1391.4L3752.4 1372L3753 1366.9L3753.4 1369.2L3755 1393.2L3755.6 1396.2L3756.6 1397.8L3757.2 1397.1L3758.8 1398.2L3759.4 1397.8L3760 1398.2L3760.4 1397.8L3761 1398.5L3761.6 1398.6L3762.2 1397.8L3762.8 1398L3763.2 1397.5L3763.8 1398L3764.4 1398.1L3765 1398.5L3765.4 1398.4L3766 1396.4L3766.6 1398.2L3767.2 1398.3L3768.2 1397.1L3769.8 1397.8L3770.4 1398.6L3771.4 1397.3L3772 1398.3L3772.6 1397.2L3773.2 1398.1L3773.8 1397.8L3774.8 1398.5L3775.8 1397.6L3776.4 1398.5L3777 1398L3777.6 1398.4L3778.6 1397.7L3779.8 1398.2L3780.4 1397.5L3781.4 1398.5L3782.6 1398.2L3783.6 1397.5L3784.6 1398.4L3785.8 1397.7L3786.8 1398.4L3787.4 1397.3L3788 1397.1L3789 1398.2L3790.2 1398L3790.8 1398.7L3791.4 1398L3792.4 1397.7L3793 1398.2L3793.6 1397.8L3794 1398.3L3794.6 1397.9L3795.8 1398.6L3796.2 1398L3796.8 1398.3L3797.4 1397.4L3798 1397.7L3799 1397.4L3800 1398L3800.8 1397.5L3802.4 1398.2L3803.4 1398.1L3804 1397.5L3804.6 1398.4L3805.6 1397.4L3806.8 1398.4L3807.8 1397.1L3808.4 1397.8L3809 1397.6L3810 1398.2L3810.6 1397.8L3811.2 1397.7L3812.2 1397.9L3813.2 1398.6L3813.8 1397.6L3814.4 1398.2L3815 1397.3L3816.6 1398.1L3818.2 1397.6L3818.8 1398L3819.8 1398L3820.4 1397.7L3821 1398.4L3821.6 1397.8L3822 1398.5L3822.6 1397.8L3823.2 1397.6L3824.2 1398.7L3824.8 1397.8L3825.4 1398L3826 1397.6L3827 1397.7L3827.6 1396.9L3828.2 1398L3828.6 1398L3829.2 1397.6L3829.8 1397.9L3830.4 1397.5L3831.4 1398.2L3832 1396.7L3832.6 1397.9L3833.6 1398.1L3834.2 1397L3834.8 1397.4L3835.4 1397.5L3835.8 1397.9L3837 1397.6L3838.6 1397.9L3839.6 1397L3840.2 1396.1L3841.4 1395.7L3842.4 1394.1L3843 1393.8L3843.6 1394.1L3846.8 1397.7L3847.4 1397L3848 1397L3848.4 1396.4L3849 1396.1L3850.2 1390.5L3851.8 1379L3852.2 1378.2L3852.6 1378.5L3852.8 1379L3855 1392.7L3855.4 1393.2L3856 1392.7L3856.2 1392.1L3857 1384.8L3858.8 1362.5L3859 1361.8L3859.2 1361.8L3859.4 1362.4L3860.4 1371.2L3860.6 1372.3L3860.8 1372.4L3861 1371.6L3861.6 1364.2L3862.8 1339.6L3863.2 1336.2L3863.6 1339.1L3864.8 1363.4L3865.4 1369L3865.8 1367.3L3866.8 1354.2L3867.3 1351L3867.6 1351.6L3867.8 1353.2L3868.6 1362.8L3869 1364.5L3869.2 1364.7L3869.4 1364.1L3870.6 1346.1L3871.2 1341.6L3871.6 1343.1L3872.4 1352.5L3872.8 1354.9L3874.2 1347.7L3874.4 1347.9L3874.6 1349.2L3876 1372.1L3876.8 1378.8L3877 1379L3877.2 1378.5L3878.2 1372.5L3878.6 1371.5L3879 1371.8L3880.2 1375.1L3880.8 1374.6L3881.4 1372.5L3881.8 1371.9L3882.4 1373.7L3884 1389L3884.8 1394.8L3885.2 1395.8L3886 1396.1L3886.4 1396.8L3887.2 1396.6L3887.6 1396.2L3889.2 1392.9L3889.9 1392.9L3890.6 1393.5L3891.4 1395.2L3892.6 1396.6L3893.6 1396.7L3894.2 1397.8L3894.8 1397.4L3895.8 1398.2L3896.4 1397.8L3897.4 1398.1L3898.4 1397.6L3899.2 1398.3L3899.6 1397.6L3900.2 1398.1L3900.8 1397.9L3901.4 1398.1L3903.4 1397.4L3904 1398.3L3904.6 1397.1L3905.2 1398.2L3906.2 1397.8L3906.8 1397.3L3907.4 1398.4L3908 1397.7L3909 1398L3909.6 1397.3L3910.2 1397.9L3911.2 1397.7L3911.8 1398L3912.2 1397.7L3912.8 1398.7L3914 1397.7L3914.4 1397.7L3916.2 1398.2L3916.8 1397.5L3917.2 1397.5L3918.4 1398.2L3920 1398.3L3920.6 1397.8L3921.2 1397.6L3921.6 1397L3922.2 1398.4L3922.8 1398.2L3923.2 1397.6L3923.8 1398.2L3924.4 1397.7L3926 1397.9L3926.6 1397.5L3927.2 1397.7L3927.8 1398.2L3928.2 1398.2L3928.8 1397.8L3929.2 1398L3929.8 1398.8L3931 1397.3L3931.6 1398.3L3932.6 1398.4L3933.2 1397.9L3934.4 1398.2L3935.4 1397.1L3936 1398.4L3936.6 1397.5L3937 1398.2L3938.2 1397.7L3939.2 1398L3939.8 1397L3940.8 1398L3941.6 1397.6L3943.6 1398.4L3944.2 1398.1L3944.8 1398.5L3945.2 1397.9L3945.8 1398.4L3946 1398.3L3947 1396.7L3947.6 1397.7L3948.6 1397.2L3949.2 1398.2L3951.4 1397.3L3951.8 1397.3L3952.6 1398.5L3953.6 1397.5L3954.2 1398.3L3955.2 1397.5L3956.4 1397.7L3956.8 1397.2L3957.4 1398L3958 1397.3L3958.4 1397.2L3959 1397.8L3959.6 1397.4L3960.2 1398.1L3960.8 1397.6L3961.8 1398.8L3962.4 1397.8L3964.6 1397.7L3965.2 1397L3965.6 1397.2L3966.2 1395.9L3966.8 1396L3968.2 1393.6L3968.4 1393.4L3969 1393.5L3969.4 1393L3970 1393.5L3970.6 1394.9L3971.2 1395L3971.8 1396.1L3972.2 1396.1L3972.8 1396.8L3973.6 1396L3974.4 1394.6L3975.6 1390.6L3977.2 1386.6L3977.6 1386.8L3978 1387.4L3980 1393.1L3981 1394L3981.6 1393.7L3982.2 1392.2L3984 1383.4L3984.4 1382.2L3985 1381.4L3985.6 1381.9L3986 1382.9L3986.6 1386.4L3987.8 1390.9L3988.2 1392L3988.6 1392.2L3989 1391.4L3989.6 1388.6L3991.4 1377L3991.8 1375.3L3992.2 1374.7L3992.8 1375.6L3994 1378.4L3994.2 1378.5L3994.4 1378.3L3994.8 1377.3L3995.4 1377.5L3996 1376.4L3996.4 1376.7L3998.6 1389.1L3999.4 1391.3L3999.8 1391.2L4000.4 1389.2L4002.4 1376.8L4002.8 1375.2L4003.3 1374.5L4003.8 1375.3L4004.2 1377.1L4006 1389.1L4006.6 1391.6L4007.6 1394.2L4008.2 1394.4L4008.6 1394L4009.8 1389.5L4011.2 1382.3L4011.6 1381.1L4012 1380.6L4012.4 1380.8L4012.8 1381.8L4014.6 1389.5L4016.8 1392.4L4017.8 1393.2L4018.4 1392.7L4019 1393.6L4020.6 1392.8L4021.2 1392.2L4022 1392.1L4022.8 1392.9L4023.4 1393L4024 1393.8L4025 1393.6L4026 1391.1L4027.6 1382.6L4028.2 1380.2L4028.6 1379.7L4029.2 1380.5L4029.8 1382.6L4031.8 1392.4L4032.8 1394.8L4033.6 1395L4034 1394.5L4035 1391.5L4037 1377.1L4037.4 1375.5L4038.2 1373.9L4040.4 1385.5L4040.8 1386.4L4041.4 1386.9L4041.8 1386.5L4042.2 1385.3L4043.2 1378.9L4044 1376.5L4044.2 1376.5L4044.6 1377.1L4046.2 1383.3L4046.6 1384.1L4047 1383.4L4047.6 1383.1L4048.2 1379.5L4049.2 1377L4051.8 1388.9L4052.2 1389.3L4053 1388.7L4054.6 1382.9L4055.2 1381.2L4055.4 1381.1L4056.4 1383.3L4058.2 1392L4059 1394.6L4059.4 1395.2L4059.8 1395.2L4060.2 1394.7L4060.8 1394.9L4062 1391.4L4063.8 1388.3L4064.2 1388L4065.2 1389.6L4065.8 1392L4067 1394.9L4067.8 1395.9L4069 1396L4070.4 1394L4071.2 1393.4L4071.8 1394.2L4072.4 1394.4L4073 1395.2L4073.4 1395.3L4074 1396.3L4074.6 1396.6L4075.2 1397.3L4075.6 1397.2L4076.2 1396.3L4076.8 1396.6L4078.4 1395.3L4079 1395.2L4080.6 1396.5L4081.6 1397L4082.2 1398L4083.8 1397.9L4084.6 1398.3L4085 1398.2L4085.6 1397.7L4086.6 1398.4L4087.2 1397.7L4088.2 1397.5L4089.4 1398.5L4090 1397.4L4091 1398L4091.6 1398.8L4092.2 1398L4093.2 1398.1L4093.8 1397.7L4094.4 1398.1L4094.8 1397.8L4095.4 1398.2L4096 1398L4096.6 1398.2L4097 1398.2L4097.6 1397.5L4098.2 1398.4L4098.8 1397.8L4100.4 1398.2L4101 1397.8L4101.6 1398.2L4102.6 1397.9L4103.6 1398.5L4104.2 1398.1L4105.8 1398.2L4106.4 1398.9L4107.6 1397.8L4108.2 1398.5L4108.6 1398.2L4109.6 1398.5L4110.4 1397.9L4110.8 1398.3L4112.4 1397.7L4113 1398.1L4113.6 1397.6L4114.6 1398.4L4115.2 1397.4L4116.4 1398.2L4117 1397.6L4118 1398.7L4118.6 1397.6L4119.2 1398.1L4119.6 1398.2L4120.2 1397.8L4121.2 1398L4121.8 1397.3L4122.4 1397.1L4123.4 1398.6L4124 1398.3L4124.6 1397.2L4125.2 1398.6L4125.8 1397.8L4126.2 1397.6L4126.8 1397.9L4127.4 1397.3L4127.8 1397.3L4128.4 1397.8L4129 1397.6L4129.6 1397.8L4130.2 1397.5L4130.6 1397.6L4131.2 1398.4L4131.8 1397.9L4133.8 1397.8L4134.4 1398L4135 1397.7L4135.6 1399L4136.2 1398.3L4137.2 1398.1L4137.8 1398.6L4138.4 1397.9L4139.6 1398.6L4140 1398.5L4140.6 1397.6L4142.6 1398.2L4143.4 1397.5L4143.8 1397.7L4144.4 1397.7L4145 1398.2L4145.6 1398L4146 1398.5L4146.6 1398.6L4147.2 1397.6L4147.8 1398.1L4148.2 1397.6L4148.8 1397.2L4149.4 1398.1L4150 1398L4151 1398.4L4151.6 1397.4L4152 1398L4152.6 1398L4153.2 1398.4L4153.8 1397.7L4154.8 1397.8L4155.4 1398.4L4156.6 1398L4157.6 1398.2L4158.2 1398L4158.8 1397.2L4159.2 1397.6L4159.8 1397.3L4160.4 1398.2L4160.8 1398.1L4161.4 1398L4162 1397.2L4163.2 1398.4L4165.2 1398.3L4165.8 1398.5L4166.8 1397.9L4167.6 1398.3L4168.6 1397.3L4169.2 1397.8L4169.8 1397.9L4170.2 1398.2L4170.8 1397.6L4172 1397.5L4173 1398.4L4174.2 1397.7L4175.2 1398.1L4175.8 1397.4L4176.2 1397.8L4176.8 1397.9L4177.8 1398.5L4178.6 1397.5L4179.6 1397.7L4180.6 1398.4L4181.4 1397.7L4182.8 1398.1L4183.4 1397.7L4184 1398.4L4184.6 1398.7L4185 1398L4185.2 1397.9L4185.6 1398.4L4186.2 1397.7L4187.4 1398.1L4188.4 1397.7L4188.8 1397.7L4190 1398.2L4190.6 1397.6L4191.2 1397.9L4191.8 1397.4L4192.2 1398L4192.8 1397.4L4193.8 1398.1L4194.4 1398L4195 1398.5L4195.6 1397.8L4196 1398.5L4196.2 1398.4L4196.6 1397.6L4196.8 1397.7L4198.2 1398.8L4198.8 1397.7L4199.4 1398.2L4200.4 1398.2L4201 1397.9L4201.6 1398L4202.2 1397.6L4202.6 1398.1L4203.2 1397.1L4203.8 1398.4L4204.4 1398.2L4206 1398.2L4206.6 1398.4L4207.6 1398.1L4208.2 1398.6L4208.8 1398.1L4209.4 1398.1L4209.8 1397.7L4211.4 1398.4L4212.2 1397.8L4213.6 1397.6L4214.2 1398.1L4214.8 1398.2L4215.4 1397.8L4216 1398.1L4216.4 1397.7L4217 1398.3L4217.6 1397.7L4218.2 1398.4L4218.6 1398.4L4219.2 1397.9L4219.8 1398.2L4220.4 1397.6L4221.4 1398.2L4222 1398L4222.6 1398.3L4223 1398L4224 1398.2L4227.4 1397.2L4228.4 1397.2L4229.8 1398.4L4230.2 1398.4L4230.8 1397.9L4231.4 1398.1L4231.8 1397.8L4232.4 1398.2L4233 1397.7L4233.6 1397.9L4234 1398.5L4234.6 1397.1L4235.2 1398.6L4236.2 1397.6L4236.8 1398.1L4237.4 1397.9L4239 1398.2L4239.6 1397.3L4240.6 1398L4241.2 1397.5L4241.8 1398.2L4242.2 1397.8L4242.8 1398.2L4243.4 1397.9L4244 1398.7L4244.6 1398.9L4245 1398.8L4245.6 1397.9L4246.2 1397.6L4247.2 1397.9L4247.8 1398.6L4248.8 1397.6L4250 1398.5L4251 1398L4251.6 1398.2L4252.2 1397.2L4255 1398.4L4255.6 1398.1L4256.6 1398.2L4257.2 1397.9L4258.2 1398.2L4258.8 1397.5L4259.4 1398L4260 1397.9L4260.4 1398.2L4261 1397.2L4261.6 1398.1L4262.2 1397.6L4262.6 1398.1L4263.2 1397.8L4263.8 1398.3L4264.8 1398.2L4266.4 1397.4L4267 1398.2L4267.6 1397.5L4268 1397.5L4268.8 1398.3L4270.8 1397.9L4271.4 1398.7L4272 1397.1L4273 1398.2L4275.2 1397.9L4275.8 1398.6L4276.4 1398.1L4277 1398.1L4277.4 1397.8L4278 1398.3L4278.6 1397.8L4279.2 1398.5L4280.2 1397.6L4280.8 1398.6L4281.4 1398.1L4282.4 1398.3L4283 1397.8L4283.6 1398L4284.2 1397.5L4284.6 1398L4285.8 1397.8L4286.8 1398.2L4288.4 1397.6L4289 1398.4L4290.6 1397.4L4291.2 1398.2L4292.4 1397.9L4294.4 1398.3L4295 1397.7L4295.6 1398L4296.2 1397.5L4296.8 1398.5L4297.2 1398L4297.8 1397.8L4298.4 1398.8L4299.6 1397.7L4300.2 1398.2L4301.2 1398.1L4302.2 1397.7L4304 1398.4L4305 1398L4306 1397.2L4306.6 1397.6L4307.2 1397.2L4307.8 1398.2L4308.8 1397.7L4309.4 1398.5L4310 1397.8L4312.2 1398.3L4313.2 1397.5L4314.4 1397.9L4316 1397.6L4316.6 1398L4317.8 1397.7L4318.8 1397.6L4319.2 1397.1L4320.2 1392.1L4320.6 1391.4L4321.8 1396.9L4322.6 1398.5L4323.2 1397.5L4323.6 1397.3L4324.4 1398.2L4326.4 1397.5L4327.4 1398.3L4327.6 1398.3L4329 1390.5L4329.3 1389.8L4329.6 1390.5L4330.6 1396.4L4331.4 1397.3L4332 1397.3L4332.6 1398.2L4333 1397.8L4333.6 1398.4L4334.2 1397.9L4334.8 1397.9L4335.2 1397.6L4335.8 1397.8L4337 1393.5L4338.4 1397.6L4339 1398.2L4339.6 1397.7L4340.2 1398L4340.8 1397.6L4342.4 1398.2L4343 1397.3L4343.4 1397.8L4344 1397.4L4344.6 1398.1L4346.8 1397.6L4347.4 1398.2L4348.4 1397.7L4349.6 1398L4350.2 1397.7L4350.6 1398.1L4351.2 1397.9L4352.8 1398L4353.4 1397.6L4355 1398.1L4356 1398L4356.4 1397.6L4356.8 1396.2L4357.2 1392.7L4358.5 1368.4L4358.8 1370.7L4359.6 1389.5L4360 1394.4L4360.6 1397.3L4361 1397.7L4361.6 1397L4362.2 1398.5L4362.8 1397.7L4363.2 1397.9L4363.8 1397.3L4364.4 1397.5L4364.8 1396.8L4365.2 1394.7L4365.8 1383L4366.9 1345L4367.2 1349.4L4368.2 1388.8L4368.6 1394.6L4369 1396.5L4369.4 1397.1L4371 1397.9L4371.6 1396.8L4372 1397.3L4372.2 1397.3L4372.6 1396.6L4373.2 1397.5L4373.6 1397.4L4374.2 1396.3L4374.8 1391.2L4376 1371.7L4377.6 1395.7L4378 1396.5L4378.8 1396.9L4379.2 1397L4379.8 1396.6L4381.4 1396.9L4382 1396.2L4383 1396.9L4383.6 1395.7L4384.2 1395.2L4384.8 1395.6L4385.2 1395.4L4387 1391L4388.2 1383.9L4388.8 1377L4389.4 1362.9L4389.8 1345L4390.4 1284.5L4390.8 1179.9L4391.2 887.3L4391.6 98L4392.8 98L4393.2 885.4L4393.8 1240.7L4394.4 1326.5L4395.2 1361.1L4395.6 1366.6L4396 1368.8L4396.2 1368.9L4396.4 1368L4396.6 1366.1L4397.2 1353.1L4397.6 1333.9L4398.2 1263L4398.6 1131.1L4399.4 98L4400.4 98L4401.2 1133.6L4401.6 1266.1L4402 1322.2L4402.6 1358.7L4403.4 1377.9L4404.6 1389.3L4405 1391.1L4405.6 1392L4406.6 1394.7L4406.8 1395L4407.2 1394.7L4407.4 1394.9L4407.8 1395.9L4408.4 1395.4L4409 1396.3L4409.6 1396.4L4410.6 1397.5L4411.6 1397.7L4412.2 1396.4L4413.4 1397.8L4414 1397.1L4415 1398.6L4415.6 1397L4416.6 1397.7L4417.2 1397.1L4418.8 1398.1L4419.4 1397.6L4421.6 1398.3L4422.2 1397.5L4422.6 1398.3L4422.8 1398.3L4423.2 1397.4L4423.8 1398L4424.4 1397.8L4424.8 1398.5L4425.4 1397.5L4426.6 1397.8L4427.6 1397.6L4428.2 1398.1L4428.8 1397.4L4429.4 1398.6L4429.8 1398.1L4430.4 1398.5L4431 1397.7L4432.2 1398.4L4434.2 1397.4L4435.4 1398.1L4436 1398.1L4436.4 1398.6L4437 1398.1L4437.6 1398.3L4438.2 1397.7L4439.2 1398.3L4439.8 1397.7L4440.4 1398.1L4441.4 1397.5L4443 1398.5L4444.2 1398.3L4444.8 1397.8L4445.4 1398.1L4446.4 1397.5L4446.8 1398.1L4447.4 1397.6L4448.6 1398.3L4449.6 1398.3L4450.2 1398L4450.8 1398.1L4452.4 1397.4L4453 1397.8L4453.4 1398.4L4454.2 1397.6L4455.6 1398.3L4456.2 1398L4456.8 1398.3L4458 1397.9L4459 1396.6L4459.6 1397.5L4460 1397.5L4460.6 1398L4461.2 1397.4L4461.8 1398L4463.4 1395.3L4464.6 1392.1L4465.2 1392.5L4465.8 1393.5L4467.6 1397.3L4467.8 1397.5L4468.4 1397.4L4469 1398L4470.6 1396.7L4472.2 1392.7L4472.6 1392.1L4473 1392L4473.4 1392.5L4475 1396.4L4476 1397.2L4477 1397.5L4477.6 1397.5L4478.2 1396.3L4479.8 1395L4480.4 1396.1L4481 1395.5L4481.6 1396.6L4482.6 1397.2L4483.2 1398.3L4483.6 1398.5L4484.8 1398.2L4485.4 1397.5L4486 1398.5L4486.6 1398.1L4487.6 1397.9L4488.2 1398.2L4488.8 1397.7L4489.8 1398.1L4490.4 1398L4491 1397.5L4492 1398.1L4492.6 1397.7L4493.6 1398.7L4494.2 1398L4495 1397.8" fill="none" stroke="#0000ff" stroke-width="3.2" stroke-linejoin="miter" stroke-miterlimit="2"/>
<path d="M2365 756L2402.5 755.6L2430 754.9L2450.5 753.9L2465.5 752.5L2477 750.6L2482 749.4L2486 748.1L2489.5 746.6L2493 744.6L2496 742.5L2499 739.7L2501.5 736.7L2503.5 733.8L2505.5 730.1L2507.5 725.5L2510.5 716.1L2513.5 702.5L2516 686.2L2518 669.1L2524 602.2L2525.5 591.3L2526 589.3L2526.5 588.4L2527 588.5L2527.5 589.6L2529 598.4L2530.5 613.4L2534 654.2L2536 674L2538.5 693.2L2541 707.1L2544 718.7L2546 724.3L2548 728.7L2550 732.1L2552.5 735.5L2555 738L2558 740.3L2561 742L2564 743.1L2567 743.9L2570.5 744.5L2574 744.7L2577.5 744.5L2581 743.9L2584.5 743L2587.5 741.7L2590 740.3L2592.5 738.5L2594.5 736.6L2596.5 734.3L2598.5 731.4L2601.5 725.6L2604 718.9L2606 711.8L2608 702.6L2610 690.6L2613 665.8L2619 601L2620.5 592.3L2621 591.2L2621.5 591.1L2622 592L2622.5 593.9L2624 604.5L2630 670L2632 686.8L2634.5 702.6L2637 714.1L2640 723.7L2641.5 727.4L2643.5 731.4L2645.5 734.6L2648 737.8L2651.5 741.1L2655 743.5L2659 745.5L2664 747.3L2669.5 748.7L2676 749.7L2683.5 750.5L2691.5 750.9L2702 751L2713 750.7L2723 749.9L2732 748.9L2739.5 747.5L2746 745.8L2752 743.6L2757 741.1L2762 737.6L2766 733.8L2769.5 729.2L2773 723L2776 715.8L2778.5 707.8L2780.5 699.5L2782.5 689L2785.5 667.4L2788 641.9L2790.5 607.6L2796 515.9L2797.5 501.8L2798 499.8L2798.5 499.1L2799 499.9L2799.5 502.2L2801 516L2805.5 582.8L2807.5 607.5L2809.5 625.3L2811.5 636.6L2813 641.1L2814 642.3L2814.5 642.4L2815 642.2L2816 640.6L2817 637.6L2818.5 630.4L2820 619.8L2821.5 605.8L2826.5 548.2L2828 538.3L2828.5 537.1L2829 537L2829.5 538.1L2830 540.3L2831.5 553.2L2837.5 635L2839.5 656.2L2842 676.3L2845 693L2848 704.1L2849.5 708.2L2851.5 712.5L2853.5 715.6L2855.5 717.9L2857 719.1L2858.5 719.9L2860 720.4L2862 720.4L2863.5 720L2865 719.2L2866.5 718L2868 716.3L2870.5 712.4L2873 706.6L2875.5 698.4L2877.5 689.3L2879 680.7L2880.5 670L2883 646.6L2885.5 614.7L2889.5 550L2891 529.1L2892.5 516.7L2893 515.2L2893.5 515.1L2894 516.5L2894.5 519.3L2896 534.9L2902 630.1L2904 654.5L2906.5 677.7L2909.5 697.2L2911 704.5L2913 712.3L2915 718.6L2917 723.6L2919.5 728.6L2922 732.6L2925 736.3L2928 739.2L2931.5 741.8L2935.5 744.1L2940 746.1L2945.5 747.9L2951.5 749.4L2958 750.6L2974.5 752.6L2996 754L3025 755L3064.5 755.7" fill="none" stroke="#0000ff" stroke-width="4" stroke-linejoin="round"/>
<path d="M3170.8 1366.4L3171.3 1354.9L3171.8 1336.8L3172.5 1288.6L3173 1216.3L3173.4 1102.5L3173.9 766.6L3174.3 98L3176.5 98L3176.9 766.6L3177.4 1102.5L3177.8 1216.3L3178.3 1288.6L3179 1336.8L3179.5 1354.9L3180 1366.4ZM3188.5 1366.4L3189 1354.9L3189.5 1336.8L3190.2 1288.6L3190.7 1216.3L3191.1 1102.5L3191.6 766.6L3192 98L3194.2 98L3194.6 766.6L3195.1 1102.5L3195.5 1216.3L3196 1288.6L3196.7 1336.8L3197.2 1354.9L3197.7 1366.4ZM3255.1 1366.4L3255.6 1354.9L3256.1 1336.8L3256.8 1288.6L3257.3 1216.3L3257.7 1102.5L3258.2 766.6L3258.6 98L3260.8 98L3261.2 766.6L3261.7 1102.5L3262.1 1216.3L3262.6 1288.6L3263.3 1336.8L3263.8 1354.9L3264.3 1366.4ZM3273 1366.4L3273.5 1354.9L3274 1336.8L3274.7 1288.6L3275.2 1216.3L3275.6 1102.5L3276.1 766.6L3276.5 98L3278.7 98L3279.1 766.6L3279.6 1102.5L3280 1216.3L3280.5 1288.6L3281.2 1336.8L3281.7 1354.9L3282.2 1366.4ZM4389.3 1366.6L4389.9 1339.5L4390.3 1300.7L4390.9 1135.2L4391.3 741L4391.6 98L4392.8 98L4393.1 741L4393.5 1135.2L4394.1 1300.7L4394.5 1339.5L4395.1 1366.6ZM4397 1366.6L4397.6 1339.5L4398 1300.7L4398.6 1135.2L4399 741L4399.3 98L4400.5 98L4400.8 741L4401.2 1135.2L4401.8 1300.7L4402.2 1339.5L4402.8 1366.6Z" fill="#0000ff" stroke="none"/>
<g stroke="#000" stroke-width="4.2" fill="none">
<path d="M3163.1 117.8L3212.2 75.7M3244.3 117.8L3293.5 75.7M4370.6 118.7L4419.8 76.6"/>
</g>
<g stroke="#262626" stroke-width="3.8" fill="none">
<path d="M632 1420.7H2268.3M2325 1423H4498.4"/>
<path d="M669 1420.7V1404.5M1063.7 1420.7V1404.5M1458.4 1420.7V1404.5M1853.1 1420.7V1404.5M2247.8 1420.7V1404.5M2369.4 1423V1401.2M3055.1 1423V1401.2M3740.8 1423V1401.2M4426.5 1423V1401.2"/>
<path d="M630.5 1433.8V3463.3M4496.5 1433.8V3463.3M630.5 1435.7H2265.2M2325 1435.7H4496.5M630.5 3461.4H2269.3M2328.7 3461.4H4496.5"/>
<path d="M669 1435.7V1455.7M669 3461.4V3441.9M1063.7 1435.7V1455.7M1063.7 3461.4V3441.9M1458.4 1435.7V1455.7M1458.4 3461.4V3441.9M1853.1 1435.7V1455.7M1853.1 3461.4V3441.9M2247.8 1435.7V1455.7M2247.8 3461.4V3441.9M2369.4 1435.7V1457.2M2369.4 3461.4V3440.4M3055.1 1435.7V1457.2M3055.1 3461.4V3440.4M3740.8 1435.7V1457.2M3740.8 3461.4V3440.4M4426.5 1435.7V1457.2M4426.5 3461.4V3440.4M630.5 3258.4H650.5M4496.5 3258.4H4474.5M630.5 2622.1H650.5M4496.5 2622.1H4474.5M630.5 1985.7H650.5M4496.5 1985.7H4474.5M630.5 3450H640.5M4496.5 3450H4485.0M630.5 3399.6H640.5M4496.5 3399.6H4485.0M630.5 3357H640.5M4496.5 3357H4485.0M630.5 3320.1H640.5M4496.5 3320.1H4485.0M630.5 3287.5H640.5M4496.5 3287.5H4485.0M630.5 3066.8H640.5M4496.5 3066.8H4485.0M630.5 2954.8H640.5M4496.5 2954.8H4485.0M630.5 2875.3H640.5M4496.5 2875.3H4485.0M630.5 2813.6H640.5M4496.5 2813.6H4485.0M630.5 2763.2H640.5M4496.5 2763.2H4485.0M630.5 2720.6H640.5M4496.5 2720.6H4485.0M630.5 2683.7H640.5M4496.5 2683.7H4485.0M630.5 2651.2H640.5M4496.5 2651.2H4485.0M630.5 2430.5H640.5M4496.5 2430.5H4485.0M630.5 2318.4H640.5M4496.5 2318.4H4485.0M630.5 2238.9H640.5M4496.5 2238.9H4485.0M630.5 2177.3H640.5M4496.5 2177.3H4485.0M630.5 2126.9H640.5M4496.5 2126.9H4485.0M630.5 2084.3H640.5M4496.5 2084.3H4485.0M630.5 2047.4H640.5M4496.5 2047.4H4485.0M630.5 2014.8H640.5M4496.5 2014.8H4485.0M630.5 1794.1H640.5M4496.5 1794.1H4485.0M630.5 1682.1H640.5M4496.5 1682.1H4485.0M630.5 1602.6H640.5M4496.5 1602.6H4485.0M630.5 1540.9H640.5M4496.5 1540.9H4485.0M630.5 1490.5H640.5M4496.5 1490.5H4485.0M630.5 1447.9H640.5M4496.5 1447.9H4485.0"/>
</g>
<g fill="#262626"><rect x="2265.5" y="3256.9" width="3" height="3"/><rect x="2265.5" y="2620.6" width="3" height="3"/><rect x="2265.5" y="1984.2" width="3" height="3"/></g>
<path d="M2277.3 1384.8L2262.7 1456.2M2331.2 1385.9L2316.6 1457.3M2279.7 3421.5L2265.6 3492.8M2334.6 3424L2320.5 3494.6" stroke="#000" stroke-width="3.9" fill="none"/>
<g fill="#000">
<text x="702.6" y="3413.5" font-size="101" fill="#000">1</text>
<path d="M708.62 3405.22H727.89v9.60H708.62zM736.92 3405.22H755.08v9.60H736.92z" fill="#fff"/>
<text x="788" y="3418.4" font-size="101" fill="#000">2</text>
<text x="921.8" y="3416" font-size="101" fill="#000">3</text>
<text x="1201.6" y="3395" font-size="101" fill="#000">5</text>
<text x="1136.1" y="2698.3" font-size="101" fill="#000">4</text>
<text x="2064" y="3246.6" font-size="101" fill="#000">6</text>
<text x="2494.7" y="2006" font-size="101" fill="#000">8</text>
<text x="2675.3" y="2017.3" font-size="101" fill="#000">11</text>
<path d="M2681.32 2009.02H2700.59v9.60H2681.32zM2709.62 2009.02H2727.78v9.60H2709.62z" fill="#fff"/>
<path d="M2737.48 2009.02H2756.75v9.60H2737.48zM2765.78 2009.02H2783.94v9.60H2765.78z" fill="#fff"/>
<text x="2825.6" y="2031" font-size="101" fill="#000">13</text>
<path d="M2831.62 2022.72H2850.89v9.60H2831.62zM2859.92 2022.72H2878.08v9.60H2859.92z" fill="#fff"/>
<text x="3090" y="1751.9" font-size="101" fill="#000">16</text>
<path d="M3096.02 1743.62H3115.29v9.60H3096.02zM3124.32 1743.62H3142.48v9.60H3124.32z" fill="#fff"/>
<text x="3268.1" y="1765.8" font-size="101" fill="#000">17</text>
<path d="M3274.12 1757.52H3293.39v9.60H3274.12zM3302.42 1757.52H3320.58v9.60H3302.42z" fill="#fff"/>
<text x="4293.9" y="2016.2" font-size="101" fill="#000">22</text>
<text x="2581.6" y="2489.4" font-size="101" fill="#000">9</text>
<text x="2978.7" y="2495" font-size="101" fill="#000">15</text>
<path d="M2984.72 2486.72H3003.99v9.60H2984.72zM3013.02 2486.72H3031.18v9.60H3013.02z" fill="#fff"/>
<text x="3811.3" y="2519.5" font-size="101" fill="#000">19</text>
<path d="M3817.32 2511.22H3836.59v9.60H3817.32zM3845.62 2511.22H3863.78v9.60H3845.62z" fill="#fff"/>
<text x="4017.2" y="2498.3" font-size="101" fill="#000">20</text>
<text x="2459" y="2698" font-size="101" fill="#000">7</text>
<text x="2711.3" y="2702" font-size="101" fill="#000">12</text>
<path d="M2717.32 2693.72H2736.59v9.60H2717.32zM2745.62 2693.72H2763.78v9.60H2745.62z" fill="#fff"/>
<text x="2847.9" y="2707.6" font-size="101" fill="#000">14</text>
<path d="M2853.92 2699.32H2873.19v9.60H2853.92zM2882.22 2699.32H2900.38v9.60H2882.22z" fill="#fff"/>
<text x="2712.6" y="3034" font-size="101" fill="#000">10</text>
<path d="M2718.62 3025.72H2737.89v9.60H2718.62zM2746.92 3025.72H2765.08v9.60H2746.92z" fill="#fff"/>
<text x="4238.2" y="3015" font-size="101" fill="#000">21</text>
<path d="M4300.42 3006.72H4319.69v9.60H4300.42zM4328.72 3006.72H4346.88v9.60H4328.72z" fill="#fff"/>
<text x="3753.1" y="3253.9" font-size="101" fill="#000">18</text>
<path d="M3759.12 3245.62H3778.39v9.60H3759.12zM3787.42 3245.62H3805.58v9.60H3787.42z" fill="#fff"/>
<text x="699.5" y="1613" font-size="118" fill="#000">b</text>
</g>
<path d="M689.2 3211.6L694 3211.6L695.7 3232.3L697.7 3234.9L698.3 3246.6L702.2 3247.9L703.5 3258.3L702.2 3272.6L698.3 3273.9L697.7 3284.3L695.1 3290.8L693.8 3316.8L691.8 3318.7L688.8 3316.8L687.3 3290.8L686 3280.4L683.4 3281.7L682.1 3277.8L677.5 3277.8L676.9 3244L682.1 3243.4L683.6 3240.1L686 3242.7L687.3 3232.3L688.3 3212.9Z" fill="#ff0000" stroke="#ff0000" stroke-width="1.5" stroke-linejoin="round"/>
<path d="M782.1 3206.4L789.9 3206.4L791.2 3221.9L793.1 3227.1L798.3 3228.4L799 3234.9L800.9 3237.5L800.9 3284.3L799 3286.9L798.3 3294.7L792.5 3296.6L789.9 3323.2L782.1 3323.2L780.1 3298.6L776.2 3294.7L775.6 3298.6L772.7 3297.9L772.3 3225.8L774.9 3224.5L776.2 3228.4L780.1 3223.2Z" fill="#ff0000" stroke="#ff0000" stroke-width="1.5" stroke-linejoin="round"/>
<path d="M899 3207L902.9 3207.7L906.1 3206.4L908.7 3209L910 3224.5L914.5 3228.4L915.8 3254.4L914.5 3298.6L910 3303.8L908.7 3323.2L906.1 3327.8L902.9 3325.2L900.3 3327.1L897.7 3323.2L896.4 3303.8L893.8 3301.2L893.1 3254.4L894.2 3225.8L897 3223.9L897.7 3210.3Z" fill="#ff0000" stroke="#ff0000" stroke-width="1.5" stroke-linejoin="round"/>
<path d="M1169.9 3189.3L1183.1 3189.3L1184.2 3201.4L1188.9 3207.6L1188.7 3303.9L1184.2 3313.3L1183.1 3329.5L1169.9 3330L1168.5 3311.2L1160.1 3312.2L1159.4 3202.4L1168.5 3203.5Z" fill="#ff0000" stroke="#ff0000" stroke-width="1.5" stroke-linejoin="round"/>
<path d="M1175.5 3203.5h3v2.5h2v6h-7.3v-6h2.3zM1173.2 3298h7.3v6h-3.5v4h-2v-3.5h-1.8z" fill="#fff"/>
<g fill="#ff0000"><rect x="1135.6" y="2715.5" width="10.6" height="93.7" rx="5.3" ry="11.7"/></g>
<g fill="#ff0000"><rect x="2014" y="3106.2" width="9.2" height="94.6" rx="4.6" ry="10.1"/></g>
<g fill="#ff0000"><rect x="2496.6" y="2031" width="8.4" height="56" rx="4.2" ry="9.2"/><rect x="2527.2" y="2031" width="8.4" height="56" rx="4.2" ry="9.2"/><rect x="2501" y="2024" width="9" height="74" rx="4.5" ry="9.9"/><rect x="2522.3" y="2024" width="9" height="74" rx="4.5" ry="9.9"/><rect x="2504.5" y="2018.5" width="9" height="85" rx="4.5" ry="9.9"/><rect x="2509" y="2018" width="9" height="86" rx="4.5" ry="9.9"/><rect x="2513.5" y="2018" width="9" height="86" rx="4.5" ry="9.9"/><rect x="2518" y="2018.5" width="9" height="85" rx="4.5" ry="9.9"/></g>
<g fill="#ff0000"><rect x="2734.3" y="2033.5" width="6" height="83.5" rx="3" ry="6.6"/><rect x="2738.8" y="2033.5" width="6" height="83.5" rx="3" ry="6.6"/><rect x="2747.2" y="2030" width="6.8" height="91.8" rx="3.4" ry="7.5"/><rect x="2752.4" y="2030" width="6.8" height="91.8" rx="3.4" ry="7.5"/></g>
<g fill="#ff0000"><rect x="2802.6" y="2028.6" width="6" height="90.4" rx="3" ry="6.6"/><rect x="2810.6" y="2028.6" width="5.8" height="89.9" rx="2.9" ry="6.4"/><rect x="2816.3" y="2031.4" width="5.8" height="84.2" rx="2.9" ry="6.4"/><rect x="2824.2" y="2032" width="6" height="83" rx="3" ry="6.6"/></g>
<g fill="#ff0000"><rect x="2573.8" y="2298.2" width="8" height="73" rx="4" ry="8.8"/><rect x="2580.8" y="2291.9" width="8.6" height="86.6" rx="4.3" ry="9.5"/><rect x="2588.2" y="2298.2" width="8" height="73" rx="4" ry="8.8"/><rect x="2577.5" y="2300" width="8" height="70" rx="4" ry="8.8"/><rect x="2584.7" y="2300" width="8" height="70" rx="4" ry="8.8"/></g>
<path d="M3176.4 1767.9C3180.4 1769.9 3180 1799.8 3180 1809.8C3180 1819.8 3180.4 1849.6 3176.4 1851.6C3172.4 1849.6 3172.8 1819.8 3172.8 1809.8C3172.8 1799.8 3172.4 1769.9 3176.4 1767.9Z" fill="#0000ff"/>
<path d="M3176.4 1770.2V1849.3" stroke="#0000ff" stroke-width="4.4" stroke-linecap="round"/>
<path d="M3194.2 1764.9C3198.2 1766.9 3197.8 1800.2 3197.8 1810.2C3197.8 1820.2 3198.2 1853.5 3194.2 1855.5C3190.2 1853.5 3190.6 1820.2 3190.6 1810.2C3190.6 1800.2 3190.2 1766.9 3194.2 1764.9Z" fill="#0000ff"/>
<path d="M3194.2 1767.2V1853.2" stroke="#0000ff" stroke-width="4.4" stroke-linecap="round"/>
<path d="M3260.7 1764.4C3264.7 1766.4 3264.3 1799.6 3264.3 1809.6C3264.3 1819.6 3264.7 1852.7 3260.7 1854.7C3256.7 1852.7 3257.1 1819.6 3257.1 1809.6C3257.1 1799.6 3256.7 1766.4 3260.7 1764.4Z" fill="#0000ff"/>
<path d="M3260.7 1766.7V1852.4" stroke="#0000ff" stroke-width="4.4" stroke-linecap="round"/>
<path d="M3278.4 1767C3282.4 1769 3282 1798.8 3282 1808.8C3282 1818.8 3282.4 1848.7 3278.4 1850.7C3274.4 1848.7 3274.8 1818.8 3274.8 1808.8C3274.8 1798.8 3274.4 1769 3278.4 1767Z" fill="#0000ff"/>
<path d="M3278.4 1769.3V1848.4" stroke="#0000ff" stroke-width="4.4" stroke-linecap="round"/>
<g fill="#0000ff"><rect x="2938.6" y="2321.1" width="8" height="83.5" rx="4" ry="8.8"/><rect x="2945.7" y="2312.8" width="8.8" height="103.3" rx="4.4" ry="9.7"/><rect x="2952.6" y="2312.4" width="8.8" height="104.3" rx="4.4" ry="9.7"/><rect x="2960.7" y="2320" width="8" height="86.7" rx="4" ry="8.8"/><rect x="2942.3" y="2322" width="8" height="82" rx="4" ry="8.8"/><rect x="2949.5" y="2316" width="8" height="96" rx="4" ry="8.8"/><rect x="2956.8" y="2322" width="8" height="82" rx="4" ry="8.8"/></g>
<g fill="#0000ff"><rect x="3849.2" y="2320.8" width="7.6" height="74.4" rx="3.8" ry="8.4"/><rect x="3852.7" y="2318.7" width="7.6" height="78.6" rx="3.8" ry="8.4"/><rect x="3856.6" y="2313.8" width="7.6" height="89.8" rx="3.8" ry="8.4"/><rect x="3860.4" y="2309.7" width="7.6" height="99.4" rx="3.8" ry="8.4"/><rect x="3864.2" y="2311.7" width="7.6" height="95.3" rx="3.8" ry="8.4"/><rect x="3868" y="2310.4" width="7.6" height="98" rx="3.8" ry="8.4"/><rect x="3871.9" y="2311.7" width="7.6" height="94" rx="3.8" ry="8.4"/><rect x="3875.8" y="2316.6" width="7.6" height="83.5" rx="3.8" ry="8.4"/><rect x="3878.8" y="2317.3" width="7.6" height="82.1" rx="3.8" ry="8.4"/><rect x="3881.8" y="2328.4" width="4.8" height="50.1" rx="2.4" ry="5.3"/><rect x="3889.1" y="2337.9" width="4.2" height="36.5" rx="2.1" ry="4.6"/></g>
<g fill="#0000ff"><rect x="3967.6" y="2316.6" width="5.8" height="53.6" rx="2.9" ry="6.4"/><rect x="3973.7" y="2306.9" width="9.2" height="75.8" rx="4.6" ry="10.1"/><rect x="3981.3" y="2303.4" width="9.2" height="83.2" rx="4.6" ry="10.1"/><rect x="3989" y="2300.9" width="9.2" height="88.8" rx="4.6" ry="10.1"/><rect x="3994.9" y="2302.7" width="9.2" height="85.6" rx="4.6" ry="10.1"/><rect x="4000.5" y="2300.9" width="9.2" height="89" rx="4.6" ry="10.1"/><rect x="4008.1" y="2304.1" width="9.2" height="82.5" rx="4.6" ry="10.1"/><rect x="4014.8" y="2312" width="8.4" height="63.7" rx="4.2" ry="9.2"/><rect x="4020.3" y="2311" width="8.4" height="65.5" rx="4.2" ry="9.2"/><rect x="4026.2" y="2303.1" width="9.2" height="84.5" rx="4.6" ry="10.1"/><rect x="4033.9" y="2300.6" width="9.2" height="89.3" rx="4.6" ry="10.1"/><rect x="4040.8" y="2302.3" width="9.2" height="86.7" rx="4.6" ry="10.1"/><rect x="4047.1" y="2302.7" width="9.2" height="84.9" rx="4.6" ry="10.1"/><rect x="4054" y="2304.1" width="9.2" height="81.4" rx="4.6" ry="10.1"/><rect x="4061.6" y="2308.3" width="8.8" height="72.3" rx="4.4" ry="9.7"/><rect x="4069.1" y="2319.4" width="6.8" height="47.3" rx="3.4" ry="7.5"/><rect x="4078.1" y="2321.8" width="4.8" height="42.5" rx="2.4" ry="5.3"/><rect x="3978" y="2308" width="8" height="74" rx="4" ry="8.8"/><rect x="3985.7" y="2304" width="8" height="82" rx="4" ry="8.8"/><rect x="4005" y="2304" width="8" height="82" rx="4" ry="8.8"/><rect x="4030.6" y="2303" width="8" height="84" rx="4" ry="8.8"/><rect x="4058.3" y="2308" width="8" height="73" rx="4" ry="8.8"/></g>
<path d="M2657.3 2984.5V3051.8M2683 2984.5V3051.8M2666.2 2975.7V3065.7M2674.6 2975.7V3065.7" stroke="#0000ff" stroke-width="4.2" stroke-linecap="round" fill="none"/>
<g fill="#262626"><rect x="2459.3" y="2717.9" width="9.8" height="94.6" rx="4.9" ry="10.8"/><rect x="2747.5" y="2717.9" width="9" height="94.6" rx="4.5" ry="9.9"/><rect x="2873.1" y="2721" width="9.2" height="94.9" rx="4.6" ry="10.1"/><rect x="3720.7" y="3110.8" width="9.8" height="95.8" rx="4.9" ry="10.8"/></g>
<g fill="#262626"><rect x="4355.5" y="2994.9" width="9.4" height="85.1" rx="4.7" ry="10.3"/><rect x="4363.8" y="2989.8" width="9.4" height="92.2" rx="4.7" ry="10.3"/><rect x="4371.9" y="2995.3" width="9.4" height="84.7" rx="4.7" ry="10.3"/><rect x="4359.8" y="2998" width="9" height="80" rx="4.5" ry="9.9"/><rect x="4368" y="2998" width="9" height="80" rx="4.5" ry="9.9"/><rect x="4358.4" y="3070" width="3.8" height="24.8" rx="1.9" ry="4.2"/><rect x="4366.4" y="3070" width="4.2" height="31.8" rx="2.1" ry="4.6"/><rect x="4374.6" y="3070" width="3.8" height="23" rx="1.9" ry="4.2"/></g>
<g fill="#262626"><rect x="4388.5" y="2032.9" width="9.2" height="118.3" rx="4.6" ry="10.1"/><rect x="4396.3" y="2032.9" width="9.8" height="118.3" rx="4.9" ry="10.8"/><rect x="4392.7" y="2036" width="9" height="112" rx="4.5" ry="9.9"/></g>
<rect x="2876.3" y="2814.5" width="2.8" height="3" fill="#00e5ee"/><rect x="3724.2" y="3205.2" width="2.8" height="3" fill="#00e5ee"/>
<path d="M703.3 1806.9H734.9M767.3 1806.9H798.9M831.3 1806.9H862.9M895.3 1806.9H926.9M959.3 1806.9H990.9M968 1806.9H999M1031.5 1806.9H1063.1M1095.5 1806.9H1127.1M1159.5 1806.9H1191.1M1223.5 1806.9H1255.1M1287.5 1806.9H1319.1M1351.5 1806.9H1383.1M1415.5 1806.9H1417.7M1964 1806H1976.3M2008.7 1806H2040.3M2072.7 1806H2104.3M2136.7 1806H2168.3M2200.7 1806H2232.3M2264.7 1806H2269M2328.8 1806.2H2360.4M2392.8 1806.1H2424.4M2456.8 1806.1H2488.4M2520.8 1806.1H2552.4M2584.8 1806H2616.4M2648.8 1806H2680.4M2712.8 1805.9H2744.4M2776.8 1805.9H2808.4M2840.8 1805.8H2872.4M2904.8 1805.8H2936.4M2921.7 1805.8H2952.3M2985.7 1805.8H3017.3M3049.7 1805.7H3081.3M3113.7 1805.7H3145.3M3177.7 1805.6H3209.3M3241.7 1805.6H3273.3M3305.7 1805.5H3337.3M3369.7 1805.5H3401.3M3433.7 1805.5H3465.3M3497.7 1805.4H3529.3M3561.7 1805.4H3593.3M3625.7 1805.3H3657.3M3689.7 1805.3H3721.3M3753.7 1805.2H3785.3M3817.7 1805.2H3849.3M3881.7 1805.2H3913.3M3898.1 1805.1H3929.9M3962.1 1805.1H3993.7M4026.1 1805.1H4057.7M4090.1 1805H4121.7M4154.1 1805H4185.7M4218.1 1804.9H4249.7M4282.1 1804.9H4313.7M4346.1 1804.8H4377.7M4410.1 1804.8H4441.7M687.6 2075.3H719.2M751.6 2075.3H783.2M815.6 2075.3H847.2M879.6 2075.3H911.2M943.6 2075.3H975.2M968 2075.3H999M1031.5 2075.3H1063.1M1095.5 2075.3H1127.1M2264.7 2077.1H2269M2328.8 2077.2H2360.4M2392.8 2077.3H2424.4M2456.8 2077.4H2488.4M2520.8 2077.4H2552.4M2584.8 2077.5H2616.4M2648.8 2077.6H2680.4M2712.8 2077.7H2744.4M2776.8 2077.7H2808.4M2840.8 2077.8H2872.4M2904.8 2077.9H2936.4M2921.7 2077.9H2952.3M2985.7 2078H3017.3M3049.7 2078H3081.3M3113.7 2078.1H3145.3M3177.7 2078.2H3209.3M3241.7 2078.3H3273.3M3305.7 2078.3H3337.3M3369.7 2078.4H3401.3M3433.7 2078.5H3465.3M3497.7 2078.6H3529.3M3561.7 2078.6H3593.3M3625.7 2078.7H3657.3M3689.7 2078.8H3721.3M3753.7 2078.8H3785.3M3817.7 2078.9H3849.3M3881.7 2079H3913.3M3898.1 2079H3929.9M3962.1 2079.1H3993.7M4026.1 2079.2H4057.7M4090.1 2079.2H4121.7M4154.1 2079.3H4185.7M4218.1 2079.4H4249.7M4282.1 2079.4H4313.7M4346.1 2079.5H4377.7M4410.1 2079.6H4441.7M687.6 2352.6H719.2M751.6 2352.6H783.2M815.6 2352.6H847.2M879.6 2352.6H911.2M943.6 2352.6H975.2M968 2352.6H999M1031.5 2352.6H1063.1M1095.5 2352.6H1127.1M1159.5 2352.6H1191.1M1223.5 2352.6H1255.1M1287.5 2352.6H1319.1M1351.5 2352.6H1383.1M1415.5 2352.6H1417.7M1964 2350H1976.3M2008.7 2350H2040.3M2072.7 2350H2104.3M2136.7 2350H2168.3M2200.7 2350H2232.3M2264.7 2350H2269M2328.8 2349.7H2360.4M2392.8 2349.5H2424.4M2456.8 2349.4H2488.4M2520.8 2349.2H2552.4M2584.8 2349.1H2616.4M2648.8 2348.9H2680.4M2712.8 2348.8H2744.4M2776.8 2348.6H2808.4M2840.8 2348.5H2872.4M2904.8 2348.3H2936.4M2921.7 2348.3H2952.3M2985.7 2348.1H3017.3M3049.7 2348H3081.3M3113.7 2347.9H3145.3M3177.7 2347.7H3209.3M3241.7 2347.6H3273.3M3305.7 2347.4H3337.3M3369.7 2347.3H3401.3M3433.7 2347.1H3465.3M3497.7 2347H3529.3M3561.7 2346.8H3593.3M3625.7 2346.7H3657.3M3689.7 2346.5H3721.3M3753.7 2346.4H3785.3M3817.7 2346.2H3849.3M3881.7 2346.1H3913.3M3898.1 2346H3929.9M3962.1 2346H3993.7M4026.1 2346H4057.7M4090.1 2346H4121.7M4154.1 2346H4185.7M4218.1 2346H4249.7M4282.1 2346H4313.7M4346.1 2346H4377.7M4410.1 2346H4424M695.4 2774.5H727M759.4 2774.5H791M823.4 2774.5H855M887.4 2774.5H919M951.4 2774.5H983M968 2774.5H999M1031.5 2774.5H1063.1M1095.5 2774.5H1127.1M1159.5 2774.5H1191.1M1223.5 2774.5H1255.1M1287.5 2774.5H1319.1M1351.5 2774.5H1383.1M1415.5 2774.5H1417.7M1964 2774.5H1976.3M2008.7 2774.5H2040.3M2072.7 2774.5H2104.3M2136.7 2774.5H2168.3M2200.7 2774.5H2232.3M2264.7 2774.5H2269M2328.8 2775.2H2360.4M2392.8 2775.2H2424.4M2456.8 2775.2H2488.4M2520.8 2775.2H2552.4M2584.8 2775.2H2616.4M2648.8 2775.2H2680.4M2712.8 2775.2H2744.4M2776.8 2775.2H2808.4M2840.8 2775.2H2872.4M2904.8 2775.2H2936.4M2921.7 2775.2H2952.3M2985.7 2775.2H3017.3M3049.7 2775.2H3081.3M3113.7 2775.2H3145.3M3177.7 2775.2H3209.3M3241.7 2775.2H3273.3M3305.7 2775.2H3337.3M3369.7 2775.2H3401.3M3433.7 2775.2H3465.3M3497.7 2775.2H3529.3M3561.7 2775.2H3593.3M3625.7 2775.2H3657.3M3689.7 2775.2H3721.3M3753.7 2775.2H3785.3M3817.7 2775.2H3849.3M3881.7 2775.2H3913.3M3898.1 2775.2H3929.9M3962.1 2775.2H3993.7M4026.1 2775.2H4057.7M4090.1 2775.2H4121.7M4154.1 2775.2H4185.7M4218.1 2775.2H4249.7M4282.1 2775.2H4313.7M4346.1 2775.2H4377.7M4410.1 2775.2H4424M695.4 3017.1H727M759.4 3017.4H791M823.4 3017.8H855M887.4 3018.1H919M951.4 3018.5H983M968 3018.6H999M1031.5 3018.9H1063.1M1095.5 3019.3H1127.1M1159.5 3019.7H1191.1M1223.5 3020H1255.1M1287.5 3020.4H1319.1M1351.5 3020.7H1383.1M1415.5 3021.1H1435.9M1945.3 3024.1H1976.3M2008.7 3024.4H2040.3M2072.7 3024.8H2104.3M2136.7 3025.1H2168.3M2200.7 3025.5H2232.3M2264.7 3025.8H2269M2328.8 3026.2H2360.4M2392.8 3026.6H2424.4M2456.8 3026.9H2488.4M2520.8 3027.3H2552.4M2584.8 3027.6H2616.4M2648.8 3028H2680.4M2712.8 3028.4H2744.4M2776.8 3028.7H2808.4M2840.8 3029.1H2872.4M2904.8 3029.4H2936.4M2921.7 3029.5H2952.3M2985.7 3029.9H3017.3M3049.7 3030.2H3081.3M3113.7 3030.6H3145.3M3177.7 3031H3209.3M3241.7 3031.3H3273.3M3305.7 3031.7H3337.3M3369.7 3032H3401.3M3433.7 3032.4H3465.3M3497.7 3032.8H3529.3M3561.7 3033.1H3593.3M3625.7 3033.5H3657.3M3689.7 3033.8H3721.3M3753.7 3034.2H3785.3M3817.7 3034.5H3849.3M3881.7 3034.9H3913.3M3898.1 3035H3929.9M3962.1 3035.4H3993.7M4026.1 3035.7H4057.7M4090.1 3036.1H4121.7M4154.1 3036.4H4185.7M4218.1 3036.8H4249.7M4282.1 3037.1H4313.7M4346.1 3037.5H4377.7M4410.1 3037.9H4441.7M694.6 3153.4H726.2M758.6 3153.4H790.2M822.6 3153.4H854.2M886.6 3153.4H918.2M950.6 3153.4H982.2M968 3153.4H999M1031.5 3153.4H1063.1M1095.5 3153.4H1127.1M1159.5 3153.4H1191.1M1223.5 3153.4H1255.1M1287.5 3153.4H1319.1M1351.5 3153.4H1383.1M1415.5 3153.4H1435.9M1945.3 3153.4H1976.3M2008.7 3153.4H2040.3M2072.7 3153.4H2104.3M2136.7 3153.4H2168.3M2200.7 3153.4H2232.3M2264.7 3153.4H2269M2328.8 3152.2H2360.4M2392.8 3152.2H2424.4M2456.8 3152.1H2488.4M2520.8 3152.1H2552.4M2584.8 3152H2616.4M2648.8 3152H2680.4M2712.8 3152H2744.4M2776.8 3151.9H2808.4M2840.8 3151.9H2872.4M2904.8 3151.9H2936.4M2921.7 3151.9H2952.3M2985.7 3151.8H3017.3M3049.7 3151.8H3081.3M3113.7 3151.7H3145.3M3177.7 3151.7H3209.3M3241.7 3151.7H3273.3M3305.7 3151.6H3337.3M3369.7 3151.6H3401.3M3433.7 3151.6H3465.3M3497.7 3151.5H3529.3M3561.7 3151.5H3593.3M3625.7 3151.5H3657.3M3689.7 3151.4H3721.3M3753.7 3151.4H3785.3M3817.7 3151.3H3849.3M3881.7 3151.3H3913.3M3898.1 3151.3H3929.9M3962.1 3151.3H3993.7M4026.1 3151.2H4057.7M4090.1 3151.2H4121.7M4154.1 3151.1H4185.7M4218.1 3151.1H4249.7M4282.1 3151.1H4313.7M4346.1 3151H4377.7M4410.1 3151H4431.3M679.8 3264.7H711.4M743.8 3264.7H775.4M807.8 3264.7H839.4M871.8 3264.7H903.4M935.8 3264.7H967.4M977.7 3264.7H999M1031.5 3264.7H1063.1M1095.5 3264.7H1127.1M1159.5 3264.7H1191.1M1223.5 3264.7H1255.1M1287.5 3264.7H1319.1M1351.5 3264.7H1383.1M1415.5 3264.7H1435.9M1945.3 3264.7H1976.3M2008.7 3264.7H2040.3M2072.7 3264.7H2104.3M2136.7 3264.7H2168.3M2200.7 3264.7H2232.3M2264.7 3264.7H2269M2328.8 3264.5H2360.4M2392.8 3264.5H2424.4M2456.8 3264.4H2488.4M2520.8 3264.4H2552.4M2584.8 3264.3H2616.4M2648.8 3264.3H2680.4M2712.8 3264.3H2744.4M2776.8 3264.2H2808.4M2840.8 3264.2H2872.4M2904.8 3264.2H2936.4M2921.7 3264.2H2952.3M2985.7 3264.1H3017.3M3049.7 3264.1H3081.3M3113.7 3264H3145.3M3177.7 3264H3209.3M3241.7 3264H3273.3M3305.7 3263.9H3337.3M3369.7 3263.9H3401.3M3433.7 3263.9H3465.3M3497.7 3263.8H3529.3M3561.7 3263.8H3593.3M3625.7 3263.8H3657.3M3689.7 3263.7H3721.3M3753.7 3263.7H3785.3M3817.7 3263.6H3849.3M3881.7 3263.6H3913.3M3898.1 3263.6H3929.9M3962.1 3263.6H3993.7M4026.1 3263.5H4057.7M4090.1 3263.5H4121.7M4154.1 3263.4H4185.7M4218.1 3263.4H4249.7M4282.1 3263.4H4313.7M4346.1 3263.3H4377.7M4410.1 3263.3H4441.7" stroke="#c8c8c8" stroke-width="7.9" fill="none"/>
<g fill="#000">
<text transform="translate(1531.3 1821.9) scale(1.0961 1)" font-size="99" fill="#000">Citrate</text>
<text transform="translate(1299.4 2127) scale(1.0767 1)" font-size="99" fill="#000">Propylene glycol</text>
<text transform="translate(1531.3 2388.9) scale(1.0961 1)" font-size="99" fill="#000">Citrate</text>
<text transform="translate(1493.7 2811.3) scale(1.0652 1)" font-size="99" fill="#000">Caffeine</text>
<text transform="translate(1508.3 3045.5) scale(1.0885 1)" font-size="99" fill="#000">Ethanol</text>
<text transform="translate(1531.3 3195.3) scale(1.0961 1)" font-size="99" fill="#000">Citrate</text>
<text transform="translate(1539.9 3349) scale(1.0935 1)" font-size="99" fill="#000">Niacin</text>
</g>
<defs><filter id="sh" x="-30%" y="-30%" width="160%" height="160%"><feGaussianBlur stdDeviation="13"/></filter></defs>
<rect x="4052" y="1484" width="398" height="386" fill="#000" opacity="0.52" filter="url(#sh)"/>
<rect x="4073" y="1461.7" width="404.3" height="392.8" fill="#fff"/>
<rect x="4141" y="1517.9" width="55" height="54.1" fill="#ff0000"/><rect x="4141" y="1628" width="55" height="54" fill="#0000c8"/><rect x="4141" y="1738" width="55" height="54" fill="#000"/>
<text transform="translate(4222.9 1577.3) scale(0.9009 1)" font-size="82" fill="#ff0000" font-weight="bold">CH</text>
<text transform="translate(4222.9 1687) scale(0.9009 1)" font-size="82" fill="#0000c8" font-weight="bold">CH</text>
<text transform="translate(4222.9 1797.4) scale(0.9009 1)" font-size="82" fill="#000" font-weight="bold">CH</text>
<text transform="translate(4329.8 1710.3) scale(0.9857 1)" font-size="58.5" fill="#0000c8" font-weight="bold">2</text>
<text transform="translate(4329.8 1820.6) scale(0.9857 1)" font-size="58.5" fill="#000" font-weight="bold">3</text>
<g fill="#262626">
<text x="631.5" y="3638.8" font-size="133" fill="#262626">9</text>
<text x="1026.2" y="3638.8" font-size="133" fill="#262626">8</text>
<text x="1420.9" y="3638.8" font-size="133" fill="#262626">7</text>
<text x="1815.1" y="3638.8" font-size="133" fill="#262626">6</text>
<text x="2210.3" y="3638.8" font-size="133" fill="#262626">5</text>
<text x="2331.4" y="3638.4" font-size="133" fill="#262626">4</text>
<text x="3017.1" y="3638.4" font-size="133" fill="#262626">3</text>
<text x="3702.3" y="3638.4" font-size="133" fill="#262626">2</text>
<text x="4391" y="3638.4" font-size="133" fill="#262626">1</text>
<path d="M4399.01 3627.49H4424.38v12.63H4399.01zM4436.27 3627.49H4460.19v12.63H4436.27z" fill="#fff"/>
<text transform="translate(1915.4 3783.6) scale(1.0005 1)" font-size="147" fill="#262626">Chemical shift/ppm</text>
<text transform="translate(380.4 2057.2) scale(0.9734 1)" font-size="133" fill="#262626">10</text>
<path d="M388.17 2046.29H412.87v12.63H388.17zM424.45 2046.29H447.72v12.63H424.45z" fill="#fff"/>
<text x="525.6" y="1991" font-size="109" fill="#262626">2</text>
<text transform="translate(380.4 2693.8) scale(0.9734 1)" font-size="133" fill="#262626">10</text>
<path d="M388.17 2682.89H412.87v12.63H388.17zM424.45 2682.89H447.72v12.63H424.45z" fill="#fff"/>
<text x="532.4" y="2627.6" font-size="109" fill="#262626">1</text>
<path d="M538.90 2618.66H559.69v10.36H538.90zM569.44 2618.66H589.04v10.36H569.44z" fill="#fff"/>
<text transform="translate(380.4 3330.4) scale(0.9734 1)" font-size="133" fill="#262626">10</text>
<path d="M388.17 3319.49H412.87v12.63H388.17zM424.45 3319.49H447.72v12.63H424.45z" fill="#fff"/>
<text x="525.6" y="3264.2" font-size="109" fill="#262626">0</text>
<text transform="translate(320.1 3176.5) rotate(-90) scale(1.0004 1)" font-size="147" fill="#262626">Relative concentration</text>
</g>
</svg>
</body></html>
